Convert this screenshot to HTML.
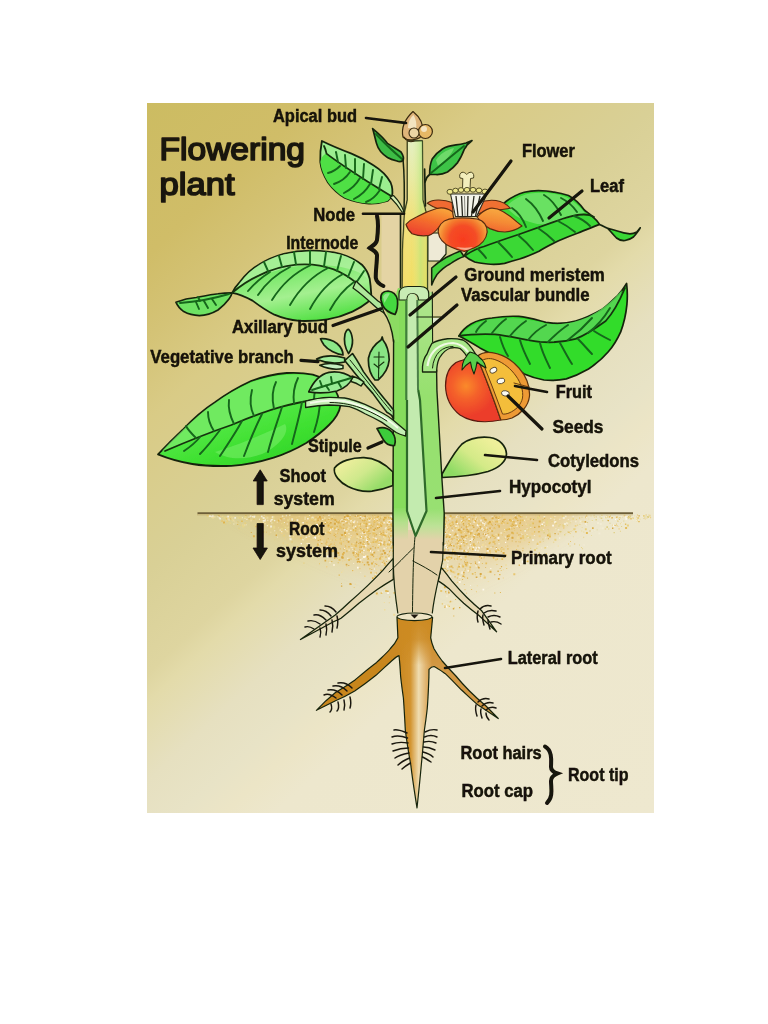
<!DOCTYPE html>
<html>
<head>
<meta charset="utf-8">
<title>Flowering plant</title>
<style>
html,body{margin:0;padding:0;background:#fff;}
body{width:768px;height:1024px;overflow:hidden;position:relative;font-family:"Liberation Sans",sans-serif;}
svg{position:absolute;left:0;top:0;display:block;}
.lbl{font-family:"Liberation Sans",sans-serif;font-weight:bold;font-size:17.6px;fill:#141208;stroke:#141208;stroke-width:0.45;}
.ttl{font-family:"Liberation Sans",sans-serif;font-weight:normal;font-size:32px;fill:#1a170c;stroke:#1a170c;stroke-width:1.7;stroke-linejoin:round;}
.ptr{stroke:#15120a;stroke-width:2.6;stroke-linecap:round;fill:none;}
.ptk{stroke:#15120a;stroke-width:3.2;stroke-linecap:round;fill:none;}
.ol{stroke:#16240c;stroke-width:1.3;stroke-linejoin:round;stroke-linecap:round;}
.vein{stroke:#14661a;stroke-width:1.9;fill:none;stroke-linecap:round;}
.veind{stroke:#16330f;stroke-width:1.8;fill:none;stroke-linecap:round;}
.hair{stroke:#1a1710;stroke-width:1.45;fill:none;stroke-linecap:round;}
</style>
</head>
<body>
<svg width="768" height="1024" viewBox="0 0 768 1024">
<defs>
<linearGradient id="bgv" gradientUnits="userSpaceOnUse" x1="147" y1="103" x2="733" y2="740">
<stop offset="0" stop-color="#ccbc62"/>
<stop offset="0.13" stop-color="#d0bd68"/>
<stop offset="0.2" stop-color="#d4c376"/>
<stop offset="0.27" stop-color="#d9cb86"/>
<stop offset="0.40" stop-color="#d9d096"/>
<stop offset="0.485" stop-color="#ded5a0"/>
<stop offset="0.51" stop-color="#e3dbaa"/>
<stop offset="0.577" stop-color="#e6e0c0"/>
<stop offset="0.63" stop-color="#e8e3c6"/>
<stop offset="0.664" stop-color="#ece5c6"/>
<stop offset="0.704" stop-color="#ede7cd"/>
<stop offset="1" stop-color="#eee8cf"/>
</linearGradient>
<linearGradient id="gUpH" gradientUnits="userSpaceOnUse" x1="403" y1="0" x2="428" y2="0">
<stop offset="0" stop-color="#f4dc78" stop-opacity="0.5"/><stop offset="0.35" stop-color="#eef0a0" stop-opacity="0.1"/><stop offset="0.7" stop-color="#b8e880" stop-opacity="0.6"/><stop offset="1" stop-color="#d8e070" stop-opacity="0.4"/>
</linearGradient>
<linearGradient id="gSoilV" gradientUnits="userSpaceOnUse" x1="0" y1="514" x2="0" y2="600">
<stop offset="0" stop-color="#e4b860" stop-opacity="0.62"/><stop offset="0.5" stop-color="#e8c47c" stop-opacity="0.4"/><stop offset="1" stop-color="#ecd49c" stop-opacity="0.1"/>
</linearGradient>
<filter id="fBlur" x="-20%" y="-40%" width="140%" height="200%"><feGaussianBlur stdDeviation="9"/></filter>
<clipPath id="cBelow"><rect x="147" y="514" width="507" height="200"/></clipPath>
<filter id="fSoft" filterUnits="userSpaceOnUse" x="140" y="96" width="522" height="724"><feGaussianBlur stdDeviation="0.55"/></filter>
<clipPath id="cFrame"><rect x="147" y="103" width="507" height="710"/></clipPath>
</defs>
<defs>
<linearGradient id="gUp" gradientUnits="userSpaceOnUse" x1="0" y1="140" x2="0" y2="290">
<stop offset="0" stop-color="#e2f0c8"/>
<stop offset="0.25" stop-color="#e8eaa4"/>
<stop offset="0.5" stop-color="#f0e07a"/>
<stop offset="1" stop-color="#f2dc5a"/>
</linearGradient>
<linearGradient id="gStemL" gradientUnits="userSpaceOnUse" x1="0" y1="508" x2="0" y2="540">
<stop offset="0" stop-color="#8adc62"/>
<stop offset="0.45" stop-color="#b4e08c"/>
<stop offset="1" stop-color="#e3d2aa"/>
</linearGradient>
<linearGradient id="gStemR" gradientUnits="userSpaceOnUse" x1="0" y1="300" x2="0" y2="540">
<stop offset="0" stop-color="#aee48c"/>
<stop offset="0.4" stop-color="#96e06e"/>
<stop offset="0.87" stop-color="#98e072"/>
<stop offset="0.94" stop-color="#bce296"/>
<stop offset="1" stop-color="#e3d2aa"/>
</linearGradient>
<linearGradient id="gBrown" gradientUnits="userSpaceOnUse" x1="397" y1="0" x2="432" y2="0">
<stop offset="0" stop-color="#c8861f"/>
<stop offset="0.38" stop-color="#d2932f"/>
<stop offset="0.62" stop-color="#efdcb0"/>
<stop offset="0.82" stop-color="#e0b470"/>
<stop offset="1" stop-color="#d29844"/>
</linearGradient>
<linearGradient id="gBrTop" gradientUnits="userSpaceOnUse" x1="0" y1="618" x2="0" y2="665">
<stop offset="0" stop-color="#cc8a22" stop-opacity="1"/>
<stop offset="0.45" stop-color="#cc8a22" stop-opacity="0.85"/>
<stop offset="1" stop-color="#cc8a22" stop-opacity="0"/>
</linearGradient>
<linearGradient id="gBrL" gradientUnits="userSpaceOnUse" x1="398" y1="645" x2="316" y2="712">
<stop offset="0" stop-color="#cc8c2e"/>
<stop offset="0.6" stop-color="#d9a352"/>
<stop offset="1" stop-color="#e2c08a"/>
</linearGradient>
<linearGradient id="gBrR" gradientUnits="userSpaceOnUse" x1="430" y1="655" x2="497" y2="718">
<stop offset="0" stop-color="#e0b070"/>
<stop offset="0.5" stop-color="#d9a352"/>
<stop offset="1" stop-color="#e2c08a"/>
</linearGradient>
</defs>
<defs>
<linearGradient id="gL3" gradientUnits="userSpaceOnUse" x1="300" y1="270" x2="310" y2="322">
<stop offset="0" stop-color="#7ae86a"/><stop offset="0.45" stop-color="#a4f090"/><stop offset="1" stop-color="#52e044"/>
</linearGradient>
<linearGradient id="gL7" gradientUnits="userSpaceOnUse" x1="250" y1="420" x2="265" y2="466">
<stop offset="0" stop-color="#4ee640"/><stop offset="0.5" stop-color="#3ee030"/><stop offset="1" stop-color="#34d62a"/>
</linearGradient>
<linearGradient id="gCoL" gradientUnits="userSpaceOnUse" x1="350" y1="458" x2="375" y2="490">
<stop offset="0" stop-color="#ecee9c"/><stop offset="0.5" stop-color="#cfe98c"/><stop offset="1" stop-color="#96dc68"/>
</linearGradient>
<linearGradient id="gCoR" gradientUnits="userSpaceOnUse" x1="490" y1="440" x2="460" y2="478">
<stop offset="0" stop-color="#eef09a"/><stop offset="0.5" stop-color="#d4ea88"/><stop offset="1" stop-color="#8edb64"/>
</linearGradient>
</defs>
<defs>
<radialGradient id="gP3" gradientUnits="userSpaceOnUse" cx="463" cy="238" r="24" fx="463" fy="240">
<stop offset="0" stop-color="#f83c1e"/><stop offset="0.55" stop-color="#f44c26"/><stop offset="0.82" stop-color="#f47c2e"/><stop offset="1" stop-color="#f6a040"/>
</radialGradient>
<linearGradient id="gP1" gradientUnits="userSpaceOnUse" x1="432" y1="207" x2="424" y2="236">
<stop offset="0" stop-color="#f8a03a"/><stop offset="0.45" stop-color="#f4702c"/><stop offset="1" stop-color="#ec4230"/>
</linearGradient>
<linearGradient id="gP4" gradientUnits="userSpaceOnUse" x1="500" y1="208" x2="496" y2="233">
<stop offset="0" stop-color="#f8ac42"/><stop offset="0.55" stop-color="#f48a34"/><stop offset="1" stop-color="#f06232"/>
</linearGradient>
<radialGradient id="gFr" gradientUnits="userSpaceOnUse" cx="466" cy="386" r="30">
<stop offset="0" stop-color="#fa8a2c"/><stop offset="0.45" stop-color="#f4602c"/><stop offset="1" stop-color="#ec3e2c"/>
</radialGradient>
<radialGradient id="gSoil" gradientUnits="userSpaceOnUse" cx="418" cy="520" r="230" gradientTransform="translate(418 520) scale(1 0.36) translate(-418 -520)">
<stop offset="0" stop-color="#e8c070" stop-opacity="0.55"/><stop offset="0.5" stop-color="#ecd094" stop-opacity="0.35"/><stop offset="1" stop-color="#ecd8a8" stop-opacity="0"/>
</radialGradient>
<clipPath id="cSoil"><rect x="147" y="514" width="507" height="120"/></clipPath>
</defs>
<g id="bg">
<rect x="147" y="103" width="507" height="710" fill="url(#bgv)"/>
</g>
<g id="art" filter="url(#fSoft)" clip-path="url(#cFrame)">
<g id="soil">
<g clip-path="url(#cBelow)">
<path d="M236 508 L394 508 L394 582 C360 568 300 545 236 508 Z" fill="url(#gSoilV)" filter="url(#fBlur)"/>
<path d="M444 508 L590 508 C550 535 490 572 444 590 Z" fill="url(#gSoilV)" filter="url(#fBlur)"/>
<path fill="#e6c060" d="M454.1 551.0h1.4v1.4h-1.4zM336.9 557.8h0.9v0.9h-0.9zM369.1 539.0h1.0v1.0h-1.0zM447.4 535.0h1.2v1.2h-1.2zM444.5 567.7h1.4v1.4h-1.4zM442.2 563.1h1.2v1.2h-1.2zM516.1 549.1h1.0v1.0h-1.0zM456.0 554.4h0.9v0.9h-0.9zM460.5 539.3h1.4v1.4h-1.4zM457.5 566.7h1.0v1.0h-1.0zM470.9 514.8h0.9v0.9h-0.9zM448.0 590.5h1.0v1.0h-1.0zM444.1 558.8h2.0v2.0h-2.0zM453.4 525.9h1.0v1.0h-1.0zM353.4 548.2h1.7v1.7h-1.7zM326.9 519.7h1.2v1.2h-1.2zM317.3 524.6h1.0v1.0h-1.0zM559.6 524.3h0.9v0.9h-0.9zM377.5 546.9h1.4v1.4h-1.4zM342.3 553.0h1.0v1.0h-1.0zM489.2 541.7h1.7v1.7h-1.7zM381.7 532.2h2.0v2.0h-2.0zM460.2 545.1h1.0v1.0h-1.0zM376.1 518.7h2.0v2.0h-2.0zM468.7 517.8h1.0v1.0h-1.0zM381.8 561.7h1.4v1.4h-1.4zM389.8 550.0h0.9v0.9h-0.9zM468.7 517.2h1.2v1.2h-1.2zM494.1 527.7h1.2v1.2h-1.2zM354.8 555.6h1.7v1.7h-1.7zM253.3 518.8h1.2v1.2h-1.2zM469.7 551.7h1.0v1.0h-1.0zM353.7 587.2h0.9v0.9h-0.9zM443.8 535.1h1.0v1.0h-1.0zM468.1 518.9h0.9v0.9h-0.9zM453.7 586.0h1.0v1.0h-1.0zM476.6 536.9h0.9v0.9h-0.9zM315.5 516.4h1.4v1.4h-1.4zM456.3 539.0h1.7v1.7h-1.7zM334.9 545.6h0.9v0.9h-0.9zM507.3 545.5h0.9v0.9h-0.9zM366.4 520.8h1.2v1.2h-1.2zM339.7 548.2h1.2v1.2h-1.2zM455.9 524.5h1.4v1.4h-1.4zM387.0 543.4h2.0v2.0h-2.0zM501.4 516.4h1.2v1.2h-1.2zM366.3 531.3h2.0v2.0h-2.0zM448.9 523.8h1.2v1.2h-1.2zM359.4 568.3h1.0v1.0h-1.0zM340.1 523.3h0.9v0.9h-0.9zM498.6 515.9h1.0v1.0h-1.0zM440.5 514.6h1.7v1.7h-1.7zM368.8 529.4h1.4v1.4h-1.4zM542.5 525.8h1.0v1.0h-1.0zM458.6 527.7h1.7v1.7h-1.7zM521.8 519.6h1.7v1.7h-1.7zM368.3 518.7h0.9v0.9h-0.9zM487.0 530.9h1.0v1.0h-1.0zM541.1 563.8h1.0v1.0h-1.0zM457.4 557.2h1.0v1.0h-1.0zM376.5 545.2h1.0v1.0h-1.0zM359.0 526.5h1.0v1.0h-1.0zM349.4 518.3h1.4v1.4h-1.4zM339.4 526.3h2.0v2.0h-2.0zM480.6 519.6h0.9v0.9h-0.9zM449.0 529.2h1.2v1.2h-1.2zM536.7 543.2h1.7v1.7h-1.7zM374.6 533.3h1.2v1.2h-1.2zM395.8 533.1h1.0v1.0h-1.0zM380.1 515.9h1.0v1.0h-1.0zM464.5 562.5h0.9v0.9h-0.9zM494.9 554.4h1.2v1.2h-1.2zM448.4 536.4h1.7v1.7h-1.7zM340.4 539.5h1.2v1.2h-1.2zM207.6 515.1h1.4v1.4h-1.4zM520.2 529.7h1.2v1.2h-1.2zM466.8 514.7h1.0v1.0h-1.0zM393.9 555.1h0.9v0.9h-0.9zM372.3 526.2h1.0v1.0h-1.0zM474.0 535.0h0.9v0.9h-0.9zM335.3 539.3h1.2v1.2h-1.2zM467.4 535.5h2.0v2.0h-2.0zM460.2 515.5h1.2v1.2h-1.2zM526.9 560.5h1.7v1.7h-1.7zM497.8 533.4h1.0v1.0h-1.0zM447.1 534.8h1.2v1.2h-1.2zM460.4 532.0h1.4v1.4h-1.4zM251.8 516.5h1.0v1.0h-1.0zM459.1 528.2h1.2v1.2h-1.2zM324.9 550.0h2.0v2.0h-2.0zM446.8 542.8h1.0v1.0h-1.0zM382.2 530.1h1.4v1.4h-1.4zM477.0 531.0h1.0v1.0h-1.0zM485.2 524.7h1.4v1.4h-1.4zM320.2 522.3h0.9v0.9h-0.9zM375.7 528.7h1.2v1.2h-1.2zM473.2 514.6h1.7v1.7h-1.7zM357.5 528.9h0.9v0.9h-0.9zM368.0 517.7h2.0v2.0h-2.0zM393.5 592.1h1.7v1.7h-1.7zM366.7 564.3h0.9v0.9h-0.9zM361.7 553.5h0.9v0.9h-0.9zM389.7 518.0h1.0v1.0h-1.0zM381.8 522.8h1.4v1.4h-1.4zM225.7 517.7h2.0v2.0h-2.0zM442.2 527.6h1.7v1.7h-1.7zM563.3 527.5h0.9v0.9h-0.9zM332.3 546.1h1.4v1.4h-1.4zM372.1 515.3h1.0v1.0h-1.0zM337.1 521.9h1.2v1.2h-1.2zM336.5 532.8h1.2v1.2h-1.2zM487.6 529.9h1.0v1.0h-1.0zM457.1 554.8h2.0v2.0h-2.0zM441.8 520.6h1.2v1.2h-1.2zM380.6 592.3h1.7v1.7h-1.7zM454.7 533.5h1.0v1.0h-1.0zM481.4 516.7h0.9v0.9h-0.9zM440.4 517.7h1.2v1.2h-1.2zM451.9 550.5h1.4v1.4h-1.4zM377.5 514.7h1.0v1.0h-1.0zM460.7 552.4h1.0v1.0h-1.0zM568.1 543.4h1.0v1.0h-1.0zM449.5 601.2h1.4v1.4h-1.4zM339.2 525.3h1.4v1.4h-1.4zM362.9 540.8h1.4v1.4h-1.4zM500.8 550.6h1.4v1.4h-1.4zM331.8 539.6h0.9v0.9h-0.9zM358.2 523.7h2.0v2.0h-2.0zM452.5 571.2h1.7v1.7h-1.7zM383.5 523.5h0.9v0.9h-0.9zM255.2 525.8h1.4v1.4h-1.4zM518.5 551.8h1.0v1.0h-1.0zM586.2 514.7h1.0v1.0h-1.0zM467.5 551.1h1.0v1.0h-1.0zM370.3 553.6h2.0v2.0h-2.0zM375.0 541.0h1.7v1.7h-1.7zM457.8 522.9h1.0v1.0h-1.0zM379.8 553.7h1.0v1.0h-1.0zM449.9 556.9h2.0v2.0h-2.0zM376.6 523.6h2.0v2.0h-2.0zM395.0 549.6h1.0v1.0h-1.0zM362.2 562.0h0.9v0.9h-0.9zM449.5 558.2h1.2v1.2h-1.2zM320.8 527.3h1.0v1.0h-1.0zM392.6 517.4h1.7v1.7h-1.7zM389.5 526.0h0.9v0.9h-0.9zM440.1 518.6h2.0v2.0h-2.0zM466.5 525.0h2.0v2.0h-2.0zM367.3 548.9h2.0v2.0h-2.0zM333.7 544.0h0.9v0.9h-0.9zM378.4 565.3h0.9v0.9h-0.9zM606.1 515.8h1.7v1.7h-1.7zM501.4 558.3h1.7v1.7h-1.7zM358.1 551.3h1.4v1.4h-1.4zM485.9 552.5h1.7v1.7h-1.7zM315.8 520.5h2.0v2.0h-2.0zM461.5 516.1h1.7v1.7h-1.7zM382.8 562.7h0.9v0.9h-0.9zM327.5 531.6h1.7v1.7h-1.7zM500.9 522.2h1.7v1.7h-1.7zM628.1 516.1h1.7v1.7h-1.7zM467.9 570.5h1.7v1.7h-1.7zM441.9 556.7h0.9v0.9h-0.9zM461.1 548.2h1.2v1.2h-1.2zM349.0 515.4h2.0v2.0h-2.0zM464.3 515.7h1.7v1.7h-1.7zM466.5 533.2h0.9v0.9h-0.9zM380.7 524.7h1.0v1.0h-1.0zM344.7 545.1h1.0v1.0h-1.0zM372.6 532.6h2.0v2.0h-2.0zM379.7 532.9h2.0v2.0h-2.0zM351.0 584.2h0.9v0.9h-0.9zM480.3 537.3h1.4v1.4h-1.4zM491.8 521.1h0.9v0.9h-0.9zM363.8 517.9h1.7v1.7h-1.7zM624.9 523.6h1.4v1.4h-1.4zM448.7 559.3h0.9v0.9h-0.9zM376.2 541.7h1.0v1.0h-1.0zM441.7 555.6h1.7v1.7h-1.7zM377.0 528.3h1.0v1.0h-1.0zM362.6 538.1h1.0v1.0h-1.0zM374.2 575.6h2.0v2.0h-2.0zM392.8 552.8h1.2v1.2h-1.2zM312.0 527.8h1.4v1.4h-1.4zM371.3 517.9h1.7v1.7h-1.7zM339.1 542.5h1.0v1.0h-1.0zM457.8 526.2h1.4v1.4h-1.4zM456.4 519.6h0.9v0.9h-0.9zM486.1 518.8h0.9v0.9h-0.9zM485.4 562.6h1.7v1.7h-1.7zM395.2 539.1h1.0v1.0h-1.0zM346.3 551.0h1.2v1.2h-1.2zM365.8 536.1h1.4v1.4h-1.4zM468.3 519.8h2.0v2.0h-2.0zM464.6 555.8h2.0v2.0h-2.0zM441.7 527.7h1.0v1.0h-1.0zM393.7 516.1h1.2v1.2h-1.2zM615.9 516.5h1.4v1.4h-1.4zM329.9 550.4h1.7v1.7h-1.7zM497.3 549.4h1.0v1.0h-1.0zM464.2 569.8h1.2v1.2h-1.2zM393.7 517.1h1.7v1.7h-1.7zM451.0 534.6h1.0v1.0h-1.0zM442.2 536.2h1.0v1.0h-1.0zM471.8 573.1h1.7v1.7h-1.7zM495.5 514.7h1.0v1.0h-1.0zM389.4 543.3h1.7v1.7h-1.7zM447.6 527.5h1.7v1.7h-1.7zM378.9 539.6h1.4v1.4h-1.4zM374.1 515.0h1.4v1.4h-1.4zM337.7 530.9h0.9v0.9h-0.9zM528.6 541.8h1.2v1.2h-1.2zM482.6 530.4h1.4v1.4h-1.4zM376.5 539.8h1.7v1.7h-1.7zM464.0 576.3h1.2v1.2h-1.2zM440.3 551.1h1.0v1.0h-1.0zM522.3 535.3h1.4v1.4h-1.4zM618.9 518.9h1.0v1.0h-1.0zM463.2 529.2h2.0v2.0h-2.0zM362.9 536.4h1.0v1.0h-1.0zM390.3 520.4h1.2v1.2h-1.2zM364.2 534.1h1.4v1.4h-1.4zM373.8 565.4h1.2v1.2h-1.2zM363.2 522.5h1.7v1.7h-1.7zM470.1 521.5h1.0v1.0h-1.0z"/>
<path fill="#fdf8ec" d="M485.3 518.2h0.9v0.9h-0.9zM478.9 523.8h0.9v0.9h-0.9zM316.0 524.5h1.7v1.7h-1.7zM392.5 537.2h0.9v0.9h-0.9zM378.6 522.3h1.0v1.0h-1.0zM311.5 516.8h2.0v2.0h-2.0zM472.5 546.8h1.7v1.7h-1.7zM449.9 540.6h1.0v1.0h-1.0zM381.5 563.6h1.0v1.0h-1.0zM349.5 514.6h1.2v1.2h-1.2zM475.6 565.2h1.2v1.2h-1.2zM461.4 571.4h1.4v1.4h-1.4zM443.8 536.6h1.0v1.0h-1.0zM364.5 544.7h2.0v2.0h-2.0zM345.7 515.3h2.0v2.0h-2.0zM445.4 524.5h2.0v2.0h-2.0zM321.5 541.6h1.0v1.0h-1.0zM487.1 549.7h1.7v1.7h-1.7zM227.5 518.4h1.0v1.0h-1.0zM374.2 519.0h0.9v0.9h-0.9zM505.0 541.7h1.2v1.2h-1.2zM448.1 528.0h1.4v1.4h-1.4zM442.4 571.9h1.4v1.4h-1.4zM387.2 592.2h1.7v1.7h-1.7zM477.5 541.3h1.2v1.2h-1.2zM467.1 527.9h1.2v1.2h-1.2zM442.2 524.8h1.4v1.4h-1.4zM469.8 544.0h1.0v1.0h-1.0zM341.0 519.4h1.0v1.0h-1.0zM447.3 563.8h1.0v1.0h-1.0zM559.2 537.5h1.0v1.0h-1.0zM452.1 521.8h1.2v1.2h-1.2zM383.4 522.2h1.7v1.7h-1.7zM491.6 516.5h1.2v1.2h-1.2zM458.6 581.1h2.0v2.0h-2.0zM488.7 550.2h1.7v1.7h-1.7zM366.4 538.3h1.4v1.4h-1.4zM324.8 522.1h0.9v0.9h-0.9zM344.5 520.3h2.0v2.0h-2.0zM442.7 556.6h1.0v1.0h-1.0zM449.7 575.4h1.4v1.4h-1.4zM388.0 557.6h2.0v2.0h-2.0zM445.8 605.4h2.0v2.0h-2.0zM585.3 523.2h1.2v1.2h-1.2zM365.8 539.4h2.0v2.0h-2.0zM364.4 555.6h2.0v2.0h-2.0zM498.3 548.1h0.9v0.9h-0.9zM613.0 524.6h2.0v2.0h-2.0zM366.9 517.0h0.9v0.9h-0.9zM393.6 527.2h1.4v1.4h-1.4zM460.7 543.1h1.2v1.2h-1.2zM462.6 553.3h1.7v1.7h-1.7zM467.2 546.7h1.7v1.7h-1.7zM452.3 529.9h1.4v1.4h-1.4zM614.9 518.7h1.2v1.2h-1.2zM338.9 519.9h1.7v1.7h-1.7zM354.2 520.4h1.2v1.2h-1.2zM352.5 570.0h1.2v1.2h-1.2zM388.3 520.3h1.7v1.7h-1.7zM313.5 537.5h0.9v0.9h-0.9zM521.7 560.7h2.0v2.0h-2.0zM552.2 524.8h1.7v1.7h-1.7zM467.3 525.3h0.9v0.9h-0.9zM455.8 515.7h1.7v1.7h-1.7zM302.5 538.8h1.4v1.4h-1.4zM497.4 537.1h2.0v2.0h-2.0zM474.7 549.2h1.7v1.7h-1.7zM440.7 560.2h2.0v2.0h-2.0zM361.1 536.1h0.9v0.9h-0.9zM478.8 534.5h1.0v1.0h-1.0zM393.8 561.0h1.0v1.0h-1.0zM471.4 530.3h1.2v1.2h-1.2zM465.4 542.5h1.4v1.4h-1.4zM315.0 538.0h0.9v0.9h-0.9zM314.4 536.4h1.7v1.7h-1.7zM379.4 541.1h1.2v1.2h-1.2zM463.4 529.6h0.9v0.9h-0.9zM441.2 520.7h1.4v1.4h-1.4zM357.0 566.7h1.7v1.7h-1.7zM307.2 518.1h1.4v1.4h-1.4zM270.2 520.6h1.2v1.2h-1.2zM516.4 525.4h1.4v1.4h-1.4zM459.3 565.3h1.4v1.4h-1.4zM456.8 522.9h1.4v1.4h-1.4zM476.8 524.3h1.7v1.7h-1.7zM337.8 529.4h1.0v1.0h-1.0zM498.5 543.3h1.0v1.0h-1.0zM482.5 588.7h1.7v1.7h-1.7zM443.3 525.8h1.7v1.7h-1.7zM469.8 523.3h1.0v1.0h-1.0zM449.2 542.8h1.0v1.0h-1.0zM350.3 529.7h1.2v1.2h-1.2zM463.2 532.0h1.7v1.7h-1.7zM449.3 533.7h2.0v2.0h-2.0zM485.3 545.5h1.0v1.0h-1.0zM327.0 555.4h2.0v2.0h-2.0zM328.3 514.7h1.2v1.2h-1.2zM490.2 567.9h1.2v1.2h-1.2zM445.3 570.2h1.4v1.4h-1.4zM469.5 540.1h2.0v2.0h-2.0zM391.0 541.0h1.0v1.0h-1.0zM485.5 534.2h2.0v2.0h-2.0zM355.1 525.8h1.2v1.2h-1.2zM486.0 527.6h1.4v1.4h-1.4zM390.8 571.8h1.7v1.7h-1.7zM458.2 544.0h0.9v0.9h-0.9zM300.6 542.9h1.4v1.4h-1.4zM390.7 515.7h1.7v1.7h-1.7zM649.1 516.4h1.0v1.0h-1.0zM327.7 546.9h1.7v1.7h-1.7zM461.7 550.4h1.2v1.2h-1.2zM460.1 521.8h1.4v1.4h-1.4zM302.4 522.1h1.4v1.4h-1.4zM484.2 524.7h1.0v1.0h-1.0zM477.8 546.8h2.0v2.0h-2.0zM381.2 541.8h1.7v1.7h-1.7zM541.4 523.5h1.7v1.7h-1.7zM469.4 564.2h1.0v1.0h-1.0zM390.1 519.7h2.0v2.0h-2.0zM362.6 532.9h1.0v1.0h-1.0zM444.8 543.9h2.0v2.0h-2.0zM318.4 519.5h1.2v1.2h-1.2zM362.4 544.2h1.4v1.4h-1.4zM481.9 522.2h1.4v1.4h-1.4zM466.3 550.9h1.7v1.7h-1.7zM375.1 573.6h0.9v0.9h-0.9zM445.5 515.1h1.0v1.0h-1.0zM326.4 545.9h2.0v2.0h-2.0zM470.4 545.6h0.9v0.9h-0.9zM348.7 522.5h1.7v1.7h-1.7zM478.3 561.5h1.7v1.7h-1.7zM496.1 548.1h0.9v0.9h-0.9zM500.3 532.5h1.7v1.7h-1.7zM463.1 520.9h1.0v1.0h-1.0zM446.2 565.4h2.0v2.0h-2.0zM372.4 551.1h2.0v2.0h-2.0zM385.1 528.0h1.2v1.2h-1.2zM361.1 517.6h1.4v1.4h-1.4zM467.4 554.9h0.9v0.9h-0.9zM272.3 517.1h1.2v1.2h-1.2zM442.0 532.4h1.0v1.0h-1.0zM383.8 541.3h1.0v1.0h-1.0zM624.9 516.1h1.7v1.7h-1.7zM515.4 552.5h1.0v1.0h-1.0zM360.5 538.1h0.9v0.9h-0.9zM318.4 516.1h1.0v1.0h-1.0zM443.4 571.5h2.0v2.0h-2.0zM387.7 530.3h0.9v0.9h-0.9zM377.0 525.5h2.0v2.0h-2.0zM451.2 544.0h1.0v1.0h-1.0zM350.2 519.5h2.0v2.0h-2.0zM484.9 521.6h0.9v0.9h-0.9zM511.4 519.9h1.2v1.2h-1.2zM475.2 518.5h2.0v2.0h-2.0zM554.3 521.2h2.0v2.0h-2.0zM323.9 554.2h1.4v1.4h-1.4zM353.3 528.4h1.0v1.0h-1.0zM356.2 515.0h0.9v0.9h-0.9zM253.7 516.7h1.4v1.4h-1.4zM352.9 521.5h1.7v1.7h-1.7zM456.6 521.7h1.0v1.0h-1.0zM362.9 556.0h2.0v2.0h-2.0zM343.7 529.2h1.4v1.4h-1.4zM316.2 524.0h2.0v2.0h-2.0zM289.1 514.6h1.4v1.4h-1.4zM376.0 538.3h1.0v1.0h-1.0zM376.1 517.5h1.2v1.2h-1.2zM355.3 551.1h0.9v0.9h-0.9zM358.5 537.3h0.9v0.9h-0.9zM488.2 536.3h1.4v1.4h-1.4zM499.8 549.0h1.0v1.0h-1.0zM445.6 546.7h1.7v1.7h-1.7zM374.0 568.6h1.0v1.0h-1.0zM467.5 570.0h1.7v1.7h-1.7zM484.3 533.0h2.0v2.0h-2.0zM363.3 549.7h1.4v1.4h-1.4zM478.2 541.3h1.4v1.4h-1.4zM372.8 536.8h1.0v1.0h-1.0zM450.0 584.1h2.0v2.0h-2.0zM369.0 550.1h2.0v2.0h-2.0zM392.5 542.8h1.7v1.7h-1.7zM514.9 515.9h1.0v1.0h-1.0zM394.4 550.2h1.4v1.4h-1.4zM450.6 518.6h1.2v1.2h-1.2zM483.4 529.1h1.2v1.2h-1.2zM625.4 518.0h1.7v1.7h-1.7zM470.1 584.9h0.9v0.9h-0.9zM368.9 541.6h0.9v0.9h-0.9zM389.1 541.7h0.9v0.9h-0.9zM328.4 525.9h1.0v1.0h-1.0zM362.7 516.2h1.0v1.0h-1.0zM443.0 525.1h1.0v1.0h-1.0zM479.0 523.9h1.2v1.2h-1.2zM522.9 563.2h1.0v1.0h-1.0z"/>
<path fill="#dcae4c" d="M468.0 522.9h0.9v0.9h-0.9zM478.4 528.1h0.9v0.9h-0.9zM383.3 516.7h1.4v1.4h-1.4zM517.1 519.7h1.4v1.4h-1.4zM538.0 530.9h1.7v1.7h-1.7zM384.0 562.6h1.4v1.4h-1.4zM341.3 527.4h1.0v1.0h-1.0zM483.9 529.6h1.2v1.2h-1.2zM387.9 535.7h1.0v1.0h-1.0zM363.6 515.5h2.0v2.0h-2.0zM482.2 518.0h0.9v0.9h-0.9zM394.0 530.2h1.4v1.4h-1.4zM463.0 571.8h1.7v1.7h-1.7zM317.5 517.9h1.2v1.2h-1.2zM497.4 570.5h1.4v1.4h-1.4zM512.4 537.4h1.0v1.0h-1.0zM367.1 518.7h1.2v1.2h-1.2zM502.6 551.9h2.0v2.0h-2.0zM483.7 536.3h0.9v0.9h-0.9zM469.1 517.4h1.2v1.2h-1.2zM495.6 516.6h2.0v2.0h-2.0zM364.6 520.1h1.0v1.0h-1.0zM491.8 524.8h1.0v1.0h-1.0zM485.2 567.2h0.9v0.9h-0.9zM480.2 525.4h1.0v1.0h-1.0zM356.8 560.8h2.0v2.0h-2.0zM244.7 516.4h1.0v1.0h-1.0zM494.1 515.4h1.2v1.2h-1.2zM313.8 550.9h1.2v1.2h-1.2zM386.5 524.4h1.2v1.2h-1.2zM472.8 539.0h1.2v1.2h-1.2zM334.2 518.7h1.0v1.0h-1.0zM360.0 523.3h1.4v1.4h-1.4zM337.3 551.9h2.0v2.0h-2.0zM498.6 527.1h1.0v1.0h-1.0zM457.3 581.7h1.0v1.0h-1.0zM511.2 531.8h2.0v2.0h-2.0zM479.6 526.1h1.0v1.0h-1.0zM340.6 543.2h1.4v1.4h-1.4zM461.7 520.9h1.7v1.7h-1.7zM380.8 540.2h1.0v1.0h-1.0zM374.8 563.2h1.0v1.0h-1.0zM592.0 527.3h1.7v1.7h-1.7zM337.7 521.5h2.0v2.0h-2.0zM324.8 542.7h0.9v0.9h-0.9zM336.2 521.7h0.9v0.9h-0.9zM322.9 531.2h1.4v1.4h-1.4zM326.1 531.9h1.0v1.0h-1.0zM490.5 527.2h0.9v0.9h-0.9zM359.9 528.0h1.2v1.2h-1.2zM441.8 556.1h0.9v0.9h-0.9zM485.7 529.1h1.2v1.2h-1.2zM383.3 543.5h1.7v1.7h-1.7zM349.0 518.4h0.9v0.9h-0.9zM451.4 538.0h1.2v1.2h-1.2zM363.3 546.2h1.4v1.4h-1.4zM342.9 527.7h1.0v1.0h-1.0zM329.9 543.8h1.0v1.0h-1.0zM589.5 530.4h1.0v1.0h-1.0zM518.6 564.4h1.4v1.4h-1.4zM366.2 527.7h1.7v1.7h-1.7zM394.2 531.2h1.0v1.0h-1.0zM495.9 555.1h0.9v0.9h-0.9zM393.5 528.6h1.0v1.0h-1.0zM519.5 534.2h1.0v1.0h-1.0zM459.2 548.1h1.4v1.4h-1.4zM371.4 569.1h0.9v0.9h-0.9zM390.8 569.0h0.9v0.9h-0.9zM359.6 517.3h1.7v1.7h-1.7zM519.9 521.7h1.2v1.2h-1.2zM504.8 554.2h1.7v1.7h-1.7zM317.3 519.3h1.7v1.7h-1.7zM355.5 543.4h1.4v1.4h-1.4zM463.0 541.8h1.4v1.4h-1.4zM447.9 545.4h1.2v1.2h-1.2zM447.5 585.6h1.7v1.7h-1.7zM468.1 516.6h1.0v1.0h-1.0zM445.1 519.4h0.9v0.9h-0.9zM444.7 548.5h1.0v1.0h-1.0zM503.6 521.9h1.0v1.0h-1.0zM337.8 529.0h1.4v1.4h-1.4zM362.9 542.8h1.0v1.0h-1.0zM332.1 549.6h2.0v2.0h-2.0zM348.7 526.2h1.2v1.2h-1.2zM326.2 541.6h1.2v1.2h-1.2zM494.9 524.1h1.0v1.0h-1.0zM373.8 558.9h1.0v1.0h-1.0zM500.9 566.0h1.2v1.2h-1.2zM479.1 536.2h1.0v1.0h-1.0zM466.3 528.6h1.7v1.7h-1.7zM473.1 526.6h1.4v1.4h-1.4zM329.2 532.0h1.7v1.7h-1.7zM381.4 553.4h1.0v1.0h-1.0zM383.2 531.8h1.0v1.0h-1.0zM538.7 520.5h2.0v2.0h-2.0zM387.9 528.8h1.7v1.7h-1.7zM328.3 549.1h1.2v1.2h-1.2zM508.4 534.3h0.9v0.9h-0.9zM476.8 533.8h2.0v2.0h-2.0zM442.7 573.8h1.4v1.4h-1.4zM323.2 546.6h1.2v1.2h-1.2zM381.6 585.6h1.4v1.4h-1.4zM317.7 543.0h1.0v1.0h-1.0zM380.2 524.7h1.0v1.0h-1.0zM519.7 516.0h1.4v1.4h-1.4zM259.9 534.2h1.7v1.7h-1.7zM230.2 518.3h1.2v1.2h-1.2zM519.6 541.6h1.0v1.0h-1.0zM373.2 551.6h2.0v2.0h-2.0zM386.9 553.1h1.4v1.4h-1.4zM373.4 523.4h1.0v1.0h-1.0zM327.9 518.9h1.7v1.7h-1.7zM479.2 559.7h0.9v0.9h-0.9zM476.5 564.3h1.0v1.0h-1.0zM440.2 528.3h1.4v1.4h-1.4zM313.6 533.9h1.7v1.7h-1.7zM515.5 541.3h1.0v1.0h-1.0zM370.1 527.2h1.4v1.4h-1.4zM540.7 525.3h1.0v1.0h-1.0zM386.0 560.9h1.0v1.0h-1.0zM487.5 532.8h1.2v1.2h-1.2zM449.5 532.4h1.7v1.7h-1.7zM376.9 527.1h1.7v1.7h-1.7zM343.5 518.6h1.4v1.4h-1.4zM497.9 517.3h1.7v1.7h-1.7zM365.5 591.9h1.7v1.7h-1.7zM392.8 561.0h1.7v1.7h-1.7zM346.6 521.9h0.9v0.9h-0.9zM372.5 545.9h1.0v1.0h-1.0zM483.1 522.4h1.4v1.4h-1.4zM492.5 546.3h0.9v0.9h-0.9zM478.4 523.4h1.0v1.0h-1.0zM493.3 535.9h1.2v1.2h-1.2zM348.3 564.9h1.0v1.0h-1.0zM559.7 531.0h1.2v1.2h-1.2zM452.4 548.8h1.2v1.2h-1.2zM341.4 520.5h1.4v1.4h-1.4zM538.7 515.4h1.0v1.0h-1.0zM333.8 549.7h1.4v1.4h-1.4zM341.7 556.7h2.0v2.0h-2.0zM442.0 536.9h2.0v2.0h-2.0zM443.2 523.1h1.2v1.2h-1.2zM358.6 560.8h2.0v2.0h-2.0zM497.5 524.8h0.9v0.9h-0.9zM343.6 548.3h1.4v1.4h-1.4zM350.5 558.4h1.0v1.0h-1.0zM447.3 569.9h1.0v1.0h-1.0zM450.2 600.8h1.0v1.0h-1.0zM501.4 547.0h1.0v1.0h-1.0zM386.7 523.6h1.0v1.0h-1.0zM442.5 567.9h1.4v1.4h-1.4zM480.2 526.7h2.0v2.0h-2.0zM493.7 527.6h1.2v1.2h-1.2zM451.5 524.8h1.0v1.0h-1.0zM477.7 566.4h1.4v1.4h-1.4zM464.7 542.7h1.0v1.0h-1.0zM380.5 521.7h1.7v1.7h-1.7zM440.0 570.3h2.0v2.0h-2.0zM443.8 543.4h0.9v0.9h-0.9zM372.4 554.6h0.9v0.9h-0.9zM440.1 524.9h1.4v1.4h-1.4zM467.9 519.5h1.2v1.2h-1.2zM518.2 534.5h0.9v0.9h-0.9zM379.9 556.7h1.0v1.0h-1.0zM463.1 528.5h1.4v1.4h-1.4zM336.0 520.8h1.2v1.2h-1.2zM304.0 525.3h1.4v1.4h-1.4zM317.6 539.7h1.4v1.4h-1.4zM542.5 519.2h0.9v0.9h-0.9zM495.1 517.1h1.2v1.2h-1.2zM481.4 553.2h1.0v1.0h-1.0zM448.4 528.0h1.0v1.0h-1.0zM377.6 516.1h1.2v1.2h-1.2zM440.1 562.9h1.0v1.0h-1.0zM329.7 547.9h1.4v1.4h-1.4zM341.1 533.9h2.0v2.0h-2.0zM452.4 521.3h1.0v1.0h-1.0zM478.2 541.4h1.2v1.2h-1.2zM491.6 517.3h2.0v2.0h-2.0zM360.7 546.2h1.7v1.7h-1.7zM538.2 525.8h1.7v1.7h-1.7zM334.8 533.7h1.0v1.0h-1.0zM486.9 528.5h1.2v1.2h-1.2zM343.0 552.1h1.7v1.7h-1.7zM497.5 524.5h1.0v1.0h-1.0zM489.5 570.7h2.0v2.0h-2.0zM456.8 577.5h1.0v1.0h-1.0zM362.1 561.8h1.0v1.0h-1.0zM476.9 547.8h1.4v1.4h-1.4zM331.3 561.1h1.0v1.0h-1.0zM512.9 521.1h1.7v1.7h-1.7zM365.6 535.8h1.0v1.0h-1.0zM464.0 561.2h1.0v1.0h-1.0zM455.5 521.1h2.0v2.0h-2.0zM392.4 546.9h1.7v1.7h-1.7zM465.6 526.3h1.4v1.4h-1.4zM327.7 538.2h1.0v1.0h-1.0zM390.5 533.5h1.0v1.0h-1.0zM390.2 529.7h2.0v2.0h-2.0zM380.3 515.7h1.4v1.4h-1.4zM522.4 550.3h0.9v0.9h-0.9zM512.8 524.4h1.7v1.7h-1.7zM366.5 515.5h1.2v1.2h-1.2zM334.3 518.9h2.0v2.0h-2.0zM458.7 563.4h1.0v1.0h-1.0zM449.1 557.4h0.9v0.9h-0.9zM498.1 539.9h1.2v1.2h-1.2z"/>
<path fill="#e8d080" d="M250.0 518.9h2.0v2.0h-2.0zM239.6 524.7h1.2v1.2h-1.2zM570.5 531.1h1.0v1.0h-1.0zM599.5 516.5h1.0v1.0h-1.0zM289.9 556.7h2.0v2.0h-2.0zM257.4 530.4h2.0v2.0h-2.0zM230.0 516.4h1.0v1.0h-1.0zM303.3 562.6h1.2v1.2h-1.2zM256.3 524.0h1.7v1.7h-1.7zM283.3 534.8h1.7v1.7h-1.7zM569.7 533.1h1.0v1.0h-1.0zM238.6 517.1h1.7v1.7h-1.7zM584.8 528.2h2.0v2.0h-2.0zM265.1 515.2h1.7v1.7h-1.7zM537.4 515.6h1.7v1.7h-1.7zM246.1 518.9h1.7v1.7h-1.7zM310.7 549.7h1.7v1.7h-1.7zM298.0 519.7h0.9v0.9h-0.9zM244.6 517.1h1.7v1.7h-1.7zM545.9 524.7h1.2v1.2h-1.2zM561.7 515.2h1.7v1.7h-1.7zM548.1 530.4h1.2v1.2h-1.2zM289.6 514.8h1.0v1.0h-1.0zM548.0 533.5h1.0v1.0h-1.0zM306.3 515.7h1.2v1.2h-1.2zM292.6 537.1h1.2v1.2h-1.2zM637.2 517.1h2.0v2.0h-2.0zM638.1 520.6h1.2v1.2h-1.2zM576.1 519.1h1.0v1.0h-1.0zM304.1 517.9h1.2v1.2h-1.2zM573.3 528.2h2.0v2.0h-2.0zM227.1 514.8h1.0v1.0h-1.0zM292.8 518.1h1.0v1.0h-1.0zM590.5 515.6h1.0v1.0h-1.0zM265.9 518.0h1.0v1.0h-1.0zM524.6 516.4h1.0v1.0h-1.0zM643.0 515.0h1.7v1.7h-1.7zM562.5 524.8h2.0v2.0h-2.0zM611.9 524.7h0.9v0.9h-0.9zM582.1 548.2h1.0v1.0h-1.0zM237.4 516.3h1.0v1.0h-1.0zM529.8 550.8h1.7v1.7h-1.7zM527.4 529.0h1.4v1.4h-1.4zM545.7 552.9h1.4v1.4h-1.4zM537.6 531.4h1.0v1.0h-1.0zM533.9 548.9h2.0v2.0h-2.0zM257.2 515.0h1.0v1.0h-1.0zM545.9 521.1h1.7v1.7h-1.7zM532.4 525.5h1.0v1.0h-1.0zM291.7 529.6h1.2v1.2h-1.2zM535.2 515.5h0.9v0.9h-0.9zM218.6 514.7h1.2v1.2h-1.2zM551.5 520.9h1.2v1.2h-1.2zM554.4 538.7h2.0v2.0h-2.0zM296.1 517.0h1.0v1.0h-1.0zM538.6 552.3h1.4v1.4h-1.4zM282.7 542.6h1.2v1.2h-1.2zM271.7 528.8h0.9v0.9h-0.9zM312.0 547.2h2.0v2.0h-2.0zM305.4 545.5h1.7v1.7h-1.7zM528.9 551.5h1.7v1.7h-1.7zM525.1 533.9h1.0v1.0h-1.0zM229.1 516.6h1.2v1.2h-1.2zM633.0 518.3h0.9v0.9h-0.9zM574.8 528.6h1.0v1.0h-1.0zM244.4 522.6h1.7v1.7h-1.7zM238.3 522.3h1.0v1.0h-1.0zM628.2 518.0h0.9v0.9h-0.9zM619.9 530.7h1.0v1.0h-1.0zM555.2 522.6h1.7v1.7h-1.7zM283.3 515.1h1.4v1.4h-1.4zM301.8 529.3h0.9v0.9h-0.9zM547.0 519.3h0.9v0.9h-0.9zM306.8 546.7h1.0v1.0h-1.0zM619.2 517.0h1.4v1.4h-1.4zM608.1 528.4h1.2v1.2h-1.2zM620.3 523.3h1.0v1.0h-1.0zM530.4 527.9h1.0v1.0h-1.0zM226.3 520.3h2.0v2.0h-2.0zM526.4 535.5h2.0v2.0h-2.0zM544.8 547.1h1.4v1.4h-1.4zM537.4 562.6h1.2v1.2h-1.2zM583.2 536.7h1.0v1.0h-1.0zM544.1 547.4h1.2v1.2h-1.2zM626.9 524.6h2.0v2.0h-2.0zM282.9 521.9h1.2v1.2h-1.2zM552.6 517.0h1.0v1.0h-1.0zM525.6 561.0h0.9v0.9h-0.9zM583.4 531.6h0.9v0.9h-0.9z"/>
<path fill="#e0b450" d="M375.8 592.5h2.0v2.0h-2.0zM460.7 529.6h1.0v1.0h-1.0zM499.7 568.0h0.9v0.9h-0.9zM390.2 523.9h1.7v1.7h-1.7zM367.7 534.8h1.0v1.0h-1.0zM368.9 538.2h1.0v1.0h-1.0zM453.0 523.8h0.9v0.9h-0.9zM472.0 548.3h1.7v1.7h-1.7zM481.4 523.2h1.0v1.0h-1.0zM494.3 543.2h1.2v1.2h-1.2zM237.2 524.1h1.0v1.0h-1.0zM361.4 549.9h1.4v1.4h-1.4zM513.7 527.9h1.0v1.0h-1.0zM389.3 527.8h2.0v2.0h-2.0zM357.2 553.4h2.0v2.0h-2.0zM455.1 599.0h1.0v1.0h-1.0zM352.1 569.9h1.4v1.4h-1.4zM391.8 529.6h0.9v0.9h-0.9zM384.3 534.6h1.7v1.7h-1.7zM383.6 541.1h1.7v1.7h-1.7zM378.3 524.7h1.2v1.2h-1.2zM491.3 530.3h1.7v1.7h-1.7zM319.7 539.1h1.4v1.4h-1.4zM456.2 592.2h2.0v2.0h-2.0zM266.1 531.7h0.9v0.9h-0.9zM319.5 525.9h0.9v0.9h-0.9zM474.6 561.5h1.4v1.4h-1.4zM291.1 527.7h1.4v1.4h-1.4zM376.1 519.7h1.7v1.7h-1.7zM511.0 525.2h1.7v1.7h-1.7zM447.2 558.5h0.9v0.9h-0.9zM442.9 517.7h2.0v2.0h-2.0zM389.5 529.7h1.0v1.0h-1.0zM479.2 534.9h1.0v1.0h-1.0zM372.0 577.2h1.7v1.7h-1.7zM393.2 526.3h1.2v1.2h-1.2zM378.9 557.7h2.0v2.0h-2.0zM462.5 517.0h1.7v1.7h-1.7zM390.5 520.7h1.0v1.0h-1.0zM321.2 522.0h1.7v1.7h-1.7zM466.2 592.7h0.9v0.9h-0.9zM386.7 543.3h1.4v1.4h-1.4zM495.2 521.2h1.4v1.4h-1.4zM297.4 546.3h0.9v0.9h-0.9zM383.3 534.5h1.7v1.7h-1.7zM346.5 522.5h1.0v1.0h-1.0zM338.6 574.6h1.2v1.2h-1.2zM367.8 530.2h1.7v1.7h-1.7zM389.3 596.6h0.9v0.9h-0.9zM482.5 533.7h1.0v1.0h-1.0zM360.2 515.0h1.0v1.0h-1.0zM519.2 526.9h0.9v0.9h-0.9zM509.0 518.9h2.0v2.0h-2.0zM394.1 515.8h2.0v2.0h-2.0zM375.7 534.9h0.9v0.9h-0.9zM366.5 555.7h2.0v2.0h-2.0zM381.6 535.0h0.9v0.9h-0.9zM611.2 516.9h1.7v1.7h-1.7zM356.6 537.5h1.0v1.0h-1.0zM454.2 553.1h1.2v1.2h-1.2zM449.1 566.3h1.2v1.2h-1.2zM455.2 532.4h1.0v1.0h-1.0zM522.0 532.9h1.0v1.0h-1.0zM345.5 522.7h0.9v0.9h-0.9zM394.6 529.7h1.0v1.0h-1.0zM472.8 535.5h2.0v2.0h-2.0zM520.1 537.6h1.7v1.7h-1.7zM365.3 525.4h1.7v1.7h-1.7zM522.5 547.8h1.0v1.0h-1.0zM394.4 556.3h2.0v2.0h-2.0zM358.1 543.0h0.9v0.9h-0.9zM368.6 522.5h1.0v1.0h-1.0zM608.7 516.1h1.7v1.7h-1.7zM292.7 520.3h1.4v1.4h-1.4zM380.3 524.9h2.0v2.0h-2.0zM451.5 539.1h1.2v1.2h-1.2zM465.8 563.7h1.4v1.4h-1.4zM449.7 524.5h2.0v2.0h-2.0zM493.9 537.0h1.7v1.7h-1.7zM391.2 547.5h1.0v1.0h-1.0zM514.2 517.2h0.9v0.9h-0.9zM388.6 521.0h1.2v1.2h-1.2zM363.5 520.1h1.4v1.4h-1.4zM392.9 539.3h1.0v1.0h-1.0zM450.6 556.8h1.7v1.7h-1.7zM491.6 534.6h1.7v1.7h-1.7zM280.0 518.1h1.7v1.7h-1.7zM503.8 518.7h2.0v2.0h-2.0zM355.0 530.2h1.4v1.4h-1.4zM341.1 583.2h0.9v0.9h-0.9zM317.5 527.9h1.4v1.4h-1.4zM367.9 557.9h1.0v1.0h-1.0zM493.2 540.8h2.0v2.0h-2.0zM384.4 553.6h1.0v1.0h-1.0zM390.0 534.9h1.7v1.7h-1.7zM372.3 525.8h1.0v1.0h-1.0zM346.9 514.6h1.0v1.0h-1.0zM346.8 528.8h1.0v1.0h-1.0zM471.2 589.0h0.9v0.9h-0.9zM471.7 532.6h1.0v1.0h-1.0zM494.3 574.2h1.0v1.0h-1.0zM379.6 542.8h2.0v2.0h-2.0zM478.0 533.7h1.0v1.0h-1.0zM458.4 524.4h1.2v1.2h-1.2zM458.2 565.6h2.0v2.0h-2.0zM384.7 516.8h2.0v2.0h-2.0zM391.8 545.2h2.0v2.0h-2.0zM392.8 534.2h0.9v0.9h-0.9zM453.3 545.0h1.0v1.0h-1.0zM359.3 539.7h0.9v0.9h-0.9zM379.9 523.7h1.2v1.2h-1.2zM482.4 539.9h1.0v1.0h-1.0zM345.2 546.2h1.0v1.0h-1.0zM379.8 524.3h1.0v1.0h-1.0zM557.7 533.4h1.0v1.0h-1.0zM368.1 543.5h1.0v1.0h-1.0zM341.9 553.4h2.0v2.0h-2.0zM388.2 522.7h1.2v1.2h-1.2zM383.9 544.0h1.4v1.4h-1.4zM374.1 521.7h1.2v1.2h-1.2zM464.7 562.2h1.4v1.4h-1.4zM467.7 554.3h0.9v0.9h-0.9zM443.9 586.2h2.0v2.0h-2.0zM359.4 550.5h1.7v1.7h-1.7zM498.4 549.7h1.2v1.2h-1.2zM469.6 531.9h2.0v2.0h-2.0zM363.8 542.5h1.2v1.2h-1.2zM366.2 523.9h1.4v1.4h-1.4zM519.2 522.5h1.7v1.7h-1.7zM376.1 563.7h1.2v1.2h-1.2zM373.4 521.3h1.2v1.2h-1.2zM449.0 545.1h1.4v1.4h-1.4zM355.3 553.1h1.7v1.7h-1.7zM252.9 535.3h2.0v2.0h-2.0zM499.9 591.9h1.0v1.0h-1.0zM466.5 551.4h2.0v2.0h-2.0zM517.5 545.5h1.0v1.0h-1.0zM457.3 528.6h1.7v1.7h-1.7zM393.2 522.6h1.7v1.7h-1.7zM384.0 540.3h1.0v1.0h-1.0zM466.4 561.8h1.7v1.7h-1.7zM480.9 530.1h0.9v0.9h-0.9zM453.3 615.6h1.0v1.0h-1.0zM499.1 573.9h1.4v1.4h-1.4zM380.3 518.2h0.9v0.9h-0.9zM385.6 526.0h1.2v1.2h-1.2zM353.3 554.7h1.0v1.0h-1.0zM329.0 521.8h1.0v1.0h-1.0zM369.6 533.1h1.0v1.0h-1.0zM616.1 523.7h0.9v0.9h-0.9zM441.4 569.7h1.2v1.2h-1.2zM337.5 521.8h1.0v1.0h-1.0zM444.1 549.5h1.0v1.0h-1.0zM371.0 562.4h2.0v2.0h-2.0zM462.1 578.9h1.0v1.0h-1.0zM354.9 527.8h1.7v1.7h-1.7zM480.8 557.6h1.2v1.2h-1.2zM319.5 517.8h2.0v2.0h-2.0zM459.4 556.4h1.2v1.2h-1.2zM515.0 524.1h1.7v1.7h-1.7zM480.3 515.0h1.0v1.0h-1.0zM444.6 543.5h1.0v1.0h-1.0zM373.4 522.0h0.9v0.9h-0.9zM379.5 538.7h1.0v1.0h-1.0zM380.2 550.6h1.0v1.0h-1.0zM509.5 534.5h1.0v1.0h-1.0zM464.5 589.2h1.0v1.0h-1.0zM455.4 543.6h1.0v1.0h-1.0zM478.1 533.3h1.7v1.7h-1.7zM343.8 524.6h0.9v0.9h-0.9zM370.3 524.6h1.4v1.4h-1.4zM521.9 524.9h1.0v1.0h-1.0zM381.6 558.8h1.0v1.0h-1.0zM359.5 544.6h1.0v1.0h-1.0zM379.2 543.6h1.0v1.0h-1.0zM361.9 520.1h1.2v1.2h-1.2zM443.6 527.4h1.2v1.2h-1.2zM320.2 518.4h1.0v1.0h-1.0zM380.1 517.6h0.9v0.9h-0.9zM393.7 522.4h1.0v1.0h-1.0zM492.7 556.5h1.7v1.7h-1.7zM447.4 524.4h1.4v1.4h-1.4zM330.5 530.8h1.2v1.2h-1.2zM223.0 521.5h2.0v2.0h-2.0zM507.9 538.1h1.0v1.0h-1.0zM508.1 528.1h2.0v2.0h-2.0zM460.0 516.4h1.0v1.0h-1.0zM447.1 536.2h1.0v1.0h-1.0zM370.2 571.7h1.7v1.7h-1.7zM492.3 541.5h0.9v0.9h-0.9zM445.4 520.3h1.0v1.0h-1.0zM349.0 522.5h1.0v1.0h-1.0zM447.1 546.9h1.0v1.0h-1.0zM487.5 522.4h2.0v2.0h-2.0zM363.8 564.1h1.4v1.4h-1.4zM451.5 517.4h1.2v1.2h-1.2zM456.3 535.8h1.7v1.7h-1.7zM331.2 543.5h1.0v1.0h-1.0zM337.1 529.2h1.0v1.0h-1.0zM469.5 547.8h1.4v1.4h-1.4zM478.9 556.3h1.2v1.2h-1.2zM498.3 525.2h1.7v1.7h-1.7zM468.4 518.1h2.0v2.0h-2.0zM516.6 518.1h1.0v1.0h-1.0zM463.6 549.7h2.0v2.0h-2.0zM476.2 518.3h1.0v1.0h-1.0zM521.3 516.3h1.2v1.2h-1.2zM490.7 523.6h1.2v1.2h-1.2zM456.8 542.6h1.7v1.7h-1.7zM441.2 526.6h1.2v1.2h-1.2zM395.3 525.3h1.7v1.7h-1.7zM442.0 532.4h1.2v1.2h-1.2zM444.4 605.6h1.2v1.2h-1.2zM466.9 577.6h1.2v1.2h-1.2zM474.3 520.1h2.0v2.0h-2.0zM331.6 526.3h1.2v1.2h-1.2zM447.1 528.5h1.2v1.2h-1.2zM511.6 523.6h1.4v1.4h-1.4zM464.8 568.6h0.9v0.9h-0.9zM373.0 555.9h1.2v1.2h-1.2zM390.0 541.1h1.7v1.7h-1.7zM375.9 572.5h0.9v0.9h-0.9zM457.9 540.5h1.4v1.4h-1.4zM277.9 519.8h1.7v1.7h-1.7zM450.5 565.5h2.0v2.0h-2.0zM360.2 525.6h0.9v0.9h-0.9zM511.7 540.4h1.0v1.0h-1.0zM314.9 551.7h1.0v1.0h-1.0zM473.8 545.5h1.0v1.0h-1.0zM365.4 522.7h2.0v2.0h-2.0zM367.2 538.9h1.0v1.0h-1.0zM442.9 522.3h1.4v1.4h-1.4zM459.5 529.8h1.7v1.7h-1.7zM453.6 534.8h1.2v1.2h-1.2zM533.5 553.7h1.4v1.4h-1.4z"/>
<path fill="#e8c670" d="M464.3 516.6h1.2v1.2h-1.2zM329.4 543.7h1.2v1.2h-1.2zM393.8 557.6h2.0v2.0h-2.0zM369.2 568.0h1.4v1.4h-1.4zM548.5 533.5h2.0v2.0h-2.0zM501.9 534.6h0.9v0.9h-0.9zM444.8 522.9h1.4v1.4h-1.4zM448.8 523.0h1.7v1.7h-1.7zM494.0 527.8h1.4v1.4h-1.4zM475.5 548.2h1.0v1.0h-1.0zM518.0 524.7h2.0v2.0h-2.0zM349.6 518.8h1.4v1.4h-1.4zM469.4 516.7h0.9v0.9h-0.9zM514.2 529.7h1.0v1.0h-1.0zM373.0 521.6h1.4v1.4h-1.4zM443.1 541.0h0.9v0.9h-0.9zM374.3 580.1h1.0v1.0h-1.0zM477.4 536.8h0.9v0.9h-0.9zM319.0 523.9h0.9v0.9h-0.9zM361.9 515.2h1.7v1.7h-1.7zM340.3 541.8h1.7v1.7h-1.7zM467.9 517.4h1.0v1.0h-1.0zM474.8 574.3h0.9v0.9h-0.9zM499.7 548.3h1.7v1.7h-1.7zM480.7 529.6h1.0v1.0h-1.0zM479.2 522.4h0.9v0.9h-0.9zM447.5 549.1h1.7v1.7h-1.7zM481.0 516.7h2.0v2.0h-2.0zM485.2 520.9h1.0v1.0h-1.0zM339.1 527.5h1.0v1.0h-1.0zM338.4 515.5h1.0v1.0h-1.0zM465.6 516.9h1.0v1.0h-1.0zM489.8 522.1h1.7v1.7h-1.7zM370.7 542.3h1.4v1.4h-1.4zM364.4 515.6h0.9v0.9h-0.9zM494.0 555.6h1.0v1.0h-1.0zM365.0 531.2h2.0v2.0h-2.0zM454.4 576.4h1.2v1.2h-1.2zM450.8 523.5h2.0v2.0h-2.0zM518.4 549.8h1.0v1.0h-1.0zM503.1 522.1h2.0v2.0h-2.0zM515.6 518.4h1.4v1.4h-1.4zM463.4 574.1h1.2v1.2h-1.2zM335.0 557.2h1.4v1.4h-1.4zM310.7 515.2h1.2v1.2h-1.2zM387.9 536.7h1.0v1.0h-1.0zM387.4 526.8h1.2v1.2h-1.2zM462.0 538.4h1.0v1.0h-1.0zM467.9 516.1h1.0v1.0h-1.0zM463.6 535.3h1.7v1.7h-1.7zM617.1 516.4h1.0v1.0h-1.0zM350.8 518.3h1.4v1.4h-1.4zM394.4 551.6h1.7v1.7h-1.7zM394.2 521.6h1.2v1.2h-1.2zM344.6 517.7h0.9v0.9h-0.9zM316.5 521.1h0.9v0.9h-0.9zM372.6 538.6h2.0v2.0h-2.0zM489.5 529.7h1.4v1.4h-1.4zM471.0 544.9h1.0v1.0h-1.0zM470.2 524.7h1.2v1.2h-1.2zM463.7 544.8h1.7v1.7h-1.7zM388.7 554.7h1.4v1.4h-1.4zM469.4 535.6h1.4v1.4h-1.4zM346.4 519.1h2.0v2.0h-2.0zM461.7 515.9h1.0v1.0h-1.0zM221.2 520.2h1.7v1.7h-1.7zM441.7 603.2h1.4v1.4h-1.4zM477.1 517.2h1.0v1.0h-1.0zM362.5 529.5h2.0v2.0h-2.0zM467.4 547.3h1.0v1.0h-1.0zM454.6 526.8h2.0v2.0h-2.0zM456.2 545.8h1.2v1.2h-1.2zM373.0 516.5h0.9v0.9h-0.9zM452.3 551.7h1.7v1.7h-1.7zM385.5 540.7h0.9v0.9h-0.9zM454.9 524.8h1.0v1.0h-1.0zM340.1 538.2h1.7v1.7h-1.7zM330.4 529.5h1.0v1.0h-1.0zM228.8 516.6h1.2v1.2h-1.2zM456.7 568.4h1.4v1.4h-1.4zM367.3 517.7h1.7v1.7h-1.7zM458.6 545.2h1.0v1.0h-1.0zM354.9 555.6h2.0v2.0h-2.0zM317.7 515.2h1.4v1.4h-1.4zM352.7 515.1h0.9v0.9h-0.9zM547.5 529.0h1.0v1.0h-1.0zM356.1 559.0h1.0v1.0h-1.0zM518.2 541.3h1.0v1.0h-1.0zM383.0 560.3h1.4v1.4h-1.4zM478.4 523.1h2.0v2.0h-2.0zM570.0 541.0h1.0v1.0h-1.0zM478.1 542.3h0.9v0.9h-0.9zM367.7 517.2h1.2v1.2h-1.2zM369.9 526.7h0.9v0.9h-0.9zM522.2 536.7h2.0v2.0h-2.0zM483.8 576.5h2.0v2.0h-2.0zM443.6 553.3h1.0v1.0h-1.0zM361.1 528.5h1.0v1.0h-1.0zM482.8 517.7h1.2v1.2h-1.2zM339.4 538.6h0.9v0.9h-0.9zM345.3 527.8h1.2v1.2h-1.2zM462.0 522.6h1.7v1.7h-1.7zM366.9 548.3h1.4v1.4h-1.4zM506.2 567.9h1.0v1.0h-1.0zM513.3 573.3h2.0v2.0h-2.0zM384.0 544.3h1.2v1.2h-1.2zM477.4 554.9h1.2v1.2h-1.2zM456.8 515.4h1.2v1.2h-1.2zM393.5 516.6h2.0v2.0h-2.0zM460.7 531.7h1.7v1.7h-1.7zM391.9 550.3h1.7v1.7h-1.7zM460.4 521.5h1.7v1.7h-1.7zM220.5 515.9h1.0v1.0h-1.0zM310.9 519.3h1.7v1.7h-1.7zM325.8 539.6h1.2v1.2h-1.2zM446.3 529.9h0.9v0.9h-0.9zM536.7 554.8h1.0v1.0h-1.0zM319.0 563.3h1.0v1.0h-1.0zM462.1 564.5h0.9v0.9h-0.9zM463.8 584.0h1.0v1.0h-1.0zM457.6 516.0h0.9v0.9h-0.9zM206.7 514.7h1.7v1.7h-1.7zM393.8 529.4h2.0v2.0h-2.0zM445.5 520.8h1.7v1.7h-1.7zM338.5 559.1h2.0v2.0h-2.0zM452.2 542.2h0.9v0.9h-0.9zM617.5 521.0h1.0v1.0h-1.0zM491.6 535.8h1.2v1.2h-1.2zM515.0 516.5h1.7v1.7h-1.7zM333.7 533.1h1.2v1.2h-1.2zM373.3 537.7h1.7v1.7h-1.7zM385.1 556.3h1.7v1.7h-1.7zM374.5 520.9h1.0v1.0h-1.0zM446.0 534.2h2.0v2.0h-2.0zM386.0 534.2h1.4v1.4h-1.4zM485.5 539.1h1.0v1.0h-1.0zM513.3 527.4h1.0v1.0h-1.0zM449.4 543.6h1.0v1.0h-1.0zM502.5 548.4h2.0v2.0h-2.0zM468.5 522.8h1.7v1.7h-1.7zM475.9 591.3h0.9v0.9h-0.9zM385.4 536.1h1.2v1.2h-1.2zM376.4 542.0h1.2v1.2h-1.2zM448.3 544.6h1.4v1.4h-1.4zM369.3 525.1h1.4v1.4h-1.4zM454.3 553.8h1.7v1.7h-1.7zM444.8 532.5h1.0v1.0h-1.0zM494.4 549.8h1.0v1.0h-1.0zM372.2 532.3h1.0v1.0h-1.0zM358.5 523.0h0.9v0.9h-0.9zM509.9 524.9h1.7v1.7h-1.7zM316.5 532.3h2.0v2.0h-2.0zM501.7 514.6h1.2v1.2h-1.2zM387.3 515.6h1.4v1.4h-1.4zM332.9 534.8h1.2v1.2h-1.2zM497.1 548.5h2.0v2.0h-2.0zM323.6 550.6h2.0v2.0h-2.0zM373.7 538.0h1.4v1.4h-1.4zM455.3 515.8h1.0v1.0h-1.0zM366.4 535.2h1.4v1.4h-1.4zM479.6 546.2h0.9v0.9h-0.9zM342.9 541.0h1.2v1.2h-1.2zM461.6 530.9h1.0v1.0h-1.0zM499.3 516.9h1.4v1.4h-1.4zM334.1 542.4h1.0v1.0h-1.0zM446.3 544.6h1.2v1.2h-1.2zM474.8 516.1h1.0v1.0h-1.0zM384.3 564.0h2.0v2.0h-2.0zM391.9 533.4h1.2v1.2h-1.2zM358.8 514.8h1.4v1.4h-1.4zM440.6 526.8h1.7v1.7h-1.7zM345.8 526.8h1.7v1.7h-1.7zM496.2 558.3h1.7v1.7h-1.7zM348.1 559.6h1.4v1.4h-1.4zM391.3 562.2h1.0v1.0h-1.0zM387.8 536.9h1.0v1.0h-1.0zM367.8 528.1h2.0v2.0h-2.0zM385.9 515.1h2.0v2.0h-2.0zM379.3 558.8h1.2v1.2h-1.2zM299.9 536.9h2.0v2.0h-2.0zM450.9 518.8h0.9v0.9h-0.9zM440.2 589.9h2.0v2.0h-2.0zM331.5 526.4h1.0v1.0h-1.0zM483.4 557.4h1.0v1.0h-1.0zM440.1 542.9h1.2v1.2h-1.2zM356.6 526.0h1.7v1.7h-1.7zM379.3 518.4h1.2v1.2h-1.2zM381.4 555.9h1.7v1.7h-1.7zM441.5 544.9h1.7v1.7h-1.7zM457.3 558.4h1.2v1.2h-1.2zM443.9 550.1h1.4v1.4h-1.4zM488.8 550.1h2.0v2.0h-2.0zM442.1 519.8h1.7v1.7h-1.7zM321.3 542.7h0.9v0.9h-0.9zM343.4 534.1h1.7v1.7h-1.7zM319.8 536.1h1.4v1.4h-1.4zM392.7 532.4h1.0v1.0h-1.0zM326.6 541.4h1.0v1.0h-1.0zM344.3 535.6h2.0v2.0h-2.0zM372.3 534.4h1.0v1.0h-1.0zM446.7 570.2h1.2v1.2h-1.2zM263.1 531.3h1.4v1.4h-1.4zM345.5 515.7h1.4v1.4h-1.4zM490.6 522.2h0.9v0.9h-0.9zM452.9 536.7h2.0v2.0h-2.0zM446.0 541.2h1.0v1.0h-1.0zM382.6 535.7h1.0v1.0h-1.0zM379.8 522.7h1.4v1.4h-1.4zM360.5 516.0h0.9v0.9h-0.9zM338.2 554.3h1.7v1.7h-1.7zM477.4 514.6h0.9v0.9h-0.9zM387.5 545.2h0.9v0.9h-0.9zM259.6 519.2h1.0v1.0h-1.0zM461.0 542.1h1.0v1.0h-1.0zM353.0 553.3h1.4v1.4h-1.4zM307.2 524.8h0.9v0.9h-0.9zM444.5 570.6h2.0v2.0h-2.0zM390.8 533.7h0.9v0.9h-0.9zM440.4 570.6h1.0v1.0h-1.0zM504.1 537.5h1.0v1.0h-1.0zM331.1 530.8h0.9v0.9h-0.9zM468.5 554.6h1.4v1.4h-1.4z"/>
<path fill="#f6ecd0" d="M335.6 532.5h1.0v1.0h-1.0zM364.1 517.5h0.9v0.9h-0.9zM445.9 560.1h0.9v0.9h-0.9zM521.5 533.3h1.2v1.2h-1.2zM348.3 532.9h1.4v1.4h-1.4zM541.2 547.5h0.9v0.9h-0.9zM366.7 536.7h1.2v1.2h-1.2zM395.3 604.1h0.9v0.9h-0.9zM394.1 529.9h0.9v0.9h-0.9zM381.8 542.2h0.9v0.9h-0.9zM472.3 519.2h1.7v1.7h-1.7zM447.9 552.6h1.0v1.0h-1.0zM503.3 523.5h1.0v1.0h-1.0zM457.6 554.3h2.0v2.0h-2.0zM467.0 536.3h0.9v0.9h-0.9zM372.8 530.3h1.4v1.4h-1.4zM395.3 533.3h1.4v1.4h-1.4zM471.0 538.2h2.0v2.0h-2.0zM477.5 530.2h1.4v1.4h-1.4zM458.1 539.1h1.0v1.0h-1.0zM489.4 530.1h1.4v1.4h-1.4zM386.4 559.9h1.0v1.0h-1.0zM386.9 552.6h1.4v1.4h-1.4zM290.3 527.0h0.9v0.9h-0.9zM629.1 520.8h1.0v1.0h-1.0zM457.1 514.9h1.0v1.0h-1.0zM336.7 528.7h0.9v0.9h-0.9zM389.0 569.6h1.4v1.4h-1.4zM483.8 523.0h1.7v1.7h-1.7zM519.9 563.3h1.7v1.7h-1.7zM360.2 571.9h0.9v0.9h-0.9zM449.2 518.0h1.2v1.2h-1.2zM324.6 532.9h1.2v1.2h-1.2zM648.6 517.4h1.0v1.0h-1.0zM475.4 516.6h1.2v1.2h-1.2zM322.1 518.7h1.2v1.2h-1.2zM390.7 543.4h1.4v1.4h-1.4zM333.0 564.1h2.0v2.0h-2.0zM342.5 522.3h1.0v1.0h-1.0zM368.4 519.3h2.0v2.0h-2.0zM354.8 552.9h1.0v1.0h-1.0zM482.3 530.3h1.0v1.0h-1.0zM348.1 538.2h2.0v2.0h-2.0zM361.2 523.9h1.4v1.4h-1.4zM460.8 520.0h1.4v1.4h-1.4zM475.6 554.2h1.4v1.4h-1.4zM459.2 576.4h1.7v1.7h-1.7zM391.2 520.1h1.2v1.2h-1.2zM515.1 522.6h2.0v2.0h-2.0zM348.6 549.5h1.2v1.2h-1.2zM468.2 518.2h2.0v2.0h-2.0zM384.8 527.8h1.4v1.4h-1.4zM445.0 524.2h0.9v0.9h-0.9zM485.8 529.4h1.2v1.2h-1.2zM394.4 576.1h1.0v1.0h-1.0zM481.2 546.3h1.2v1.2h-1.2zM473.3 521.2h1.7v1.7h-1.7zM383.3 547.8h2.0v2.0h-2.0zM480.0 519.5h2.0v2.0h-2.0zM233.4 523.4h1.0v1.0h-1.0zM383.2 536.3h1.2v1.2h-1.2zM386.1 568.2h0.9v0.9h-0.9zM443.7 604.0h1.0v1.0h-1.0zM385.4 526.5h1.4v1.4h-1.4zM364.0 532.3h1.7v1.7h-1.7zM509.7 527.3h1.0v1.0h-1.0zM304.6 516.8h1.0v1.0h-1.0zM363.1 543.1h1.7v1.7h-1.7zM525.7 523.7h0.9v0.9h-0.9zM349.7 536.8h1.0v1.0h-1.0zM335.0 528.4h1.7v1.7h-1.7zM318.4 543.2h1.2v1.2h-1.2zM465.1 549.8h1.4v1.4h-1.4zM346.8 516.7h2.0v2.0h-2.0zM359.8 515.9h1.7v1.7h-1.7zM442.9 519.7h1.2v1.2h-1.2zM502.5 550.5h0.9v0.9h-0.9zM443.3 519.8h1.4v1.4h-1.4zM632.8 516.5h1.0v1.0h-1.0zM474.3 562.3h1.4v1.4h-1.4zM468.9 532.8h1.0v1.0h-1.0zM296.8 524.7h1.2v1.2h-1.2zM632.9 519.5h1.0v1.0h-1.0zM348.3 519.0h1.0v1.0h-1.0zM450.1 584.5h1.4v1.4h-1.4zM351.8 547.2h1.0v1.0h-1.0zM252.0 515.9h1.7v1.7h-1.7zM460.1 556.7h1.7v1.7h-1.7zM352.3 549.1h1.0v1.0h-1.0zM513.2 557.1h1.0v1.0h-1.0zM364.4 516.5h0.9v0.9h-0.9zM482.2 522.4h1.7v1.7h-1.7zM377.6 549.7h1.4v1.4h-1.4zM466.8 553.7h1.4v1.4h-1.4zM395.0 536.3h0.9v0.9h-0.9zM329.4 529.4h2.0v2.0h-2.0zM395.0 565.3h1.7v1.7h-1.7zM347.1 557.7h1.4v1.4h-1.4zM461.7 535.1h1.0v1.0h-1.0zM390.1 514.6h1.4v1.4h-1.4zM449.2 593.8h0.9v0.9h-0.9zM447.2 560.4h1.7v1.7h-1.7zM376.6 576.6h0.9v0.9h-0.9zM466.4 551.1h1.0v1.0h-1.0zM370.3 543.2h1.0v1.0h-1.0zM341.8 519.3h1.0v1.0h-1.0zM452.4 552.6h2.0v2.0h-2.0zM480.0 553.0h0.9v0.9h-0.9zM504.7 536.5h1.2v1.2h-1.2zM394.2 545.2h1.7v1.7h-1.7zM446.5 526.8h1.4v1.4h-1.4zM362.8 552.3h1.0v1.0h-1.0zM361.7 532.3h1.4v1.4h-1.4zM391.0 515.4h0.9v0.9h-0.9zM363.2 517.3h0.9v0.9h-0.9zM504.7 520.1h0.9v0.9h-0.9zM477.7 525.8h0.9v0.9h-0.9zM466.6 536.3h1.0v1.0h-1.0zM490.5 527.6h0.9v0.9h-0.9zM441.1 588.5h1.0v1.0h-1.0zM356.9 521.4h1.2v1.2h-1.2zM481.1 527.4h2.0v2.0h-2.0zM476.9 520.4h0.9v0.9h-0.9zM455.2 525.3h1.7v1.7h-1.7zM364.8 535.9h1.7v1.7h-1.7zM476.8 577.8h1.0v1.0h-1.0zM244.4 517.5h1.2v1.2h-1.2zM369.3 585.0h1.2v1.2h-1.2zM322.2 531.3h1.4v1.4h-1.4zM344.7 517.3h1.2v1.2h-1.2zM385.4 532.5h2.0v2.0h-2.0zM387.3 520.3h1.0v1.0h-1.0zM465.4 549.7h1.4v1.4h-1.4zM567.8 519.1h1.0v1.0h-1.0zM460.9 602.6h1.4v1.4h-1.4zM365.7 515.5h0.9v0.9h-0.9zM441.0 556.5h1.7v1.7h-1.7zM390.3 520.6h0.9v0.9h-0.9zM451.5 580.0h0.9v0.9h-0.9zM477.2 549.8h1.7v1.7h-1.7zM350.7 521.3h1.0v1.0h-1.0zM481.1 577.6h1.0v1.0h-1.0zM390.6 538.1h1.0v1.0h-1.0zM464.9 537.7h1.7v1.7h-1.7zM360.3 551.7h1.4v1.4h-1.4zM379.3 532.7h1.2v1.2h-1.2zM350.8 546.9h0.9v0.9h-0.9zM440.3 534.2h1.7v1.7h-1.7zM371.1 518.3h1.0v1.0h-1.0zM381.8 591.5h1.2v1.2h-1.2zM361.9 547.6h1.0v1.0h-1.0zM473.3 534.3h1.7v1.7h-1.7zM266.8 525.1h1.2v1.2h-1.2zM355.6 554.5h1.0v1.0h-1.0zM375.7 518.1h2.0v2.0h-2.0zM329.4 562.1h1.2v1.2h-1.2zM390.7 533.8h1.0v1.0h-1.0zM450.8 550.2h1.0v1.0h-1.0zM346.1 530.0h1.7v1.7h-1.7zM566.4 522.1h1.7v1.7h-1.7zM350.6 535.1h1.0v1.0h-1.0zM466.5 516.2h1.0v1.0h-1.0zM391.1 516.3h2.0v2.0h-2.0zM353.1 526.3h1.4v1.4h-1.4zM610.2 516.9h1.0v1.0h-1.0zM386.8 521.5h2.0v2.0h-2.0zM368.4 523.0h2.0v2.0h-2.0zM308.3 543.1h1.7v1.7h-1.7zM359.7 559.1h1.7v1.7h-1.7zM361.7 558.2h1.0v1.0h-1.0zM455.9 559.3h1.0v1.0h-1.0zM324.8 524.5h0.9v0.9h-0.9zM366.8 527.0h1.7v1.7h-1.7zM385.9 547.1h1.0v1.0h-1.0zM490.5 546.9h1.0v1.0h-1.0zM395.0 518.1h1.7v1.7h-1.7zM344.0 548.0h1.2v1.2h-1.2zM376.4 585.6h0.9v0.9h-0.9zM368.3 536.9h1.0v1.0h-1.0zM264.6 523.1h1.2v1.2h-1.2zM457.4 525.4h1.4v1.4h-1.4zM446.1 595.5h1.7v1.7h-1.7zM461.1 528.8h1.0v1.0h-1.0zM475.4 546.9h2.0v2.0h-2.0zM504.0 529.0h0.9v0.9h-0.9zM383.8 551.2h1.0v1.0h-1.0zM515.0 515.1h1.0v1.0h-1.0zM388.0 521.9h2.0v2.0h-2.0zM468.2 516.2h1.0v1.0h-1.0zM441.1 542.1h1.0v1.0h-1.0zM444.7 532.7h1.4v1.4h-1.4zM330.2 552.7h1.0v1.0h-1.0zM442.4 563.4h0.9v0.9h-0.9zM456.8 534.5h1.7v1.7h-1.7zM330.0 528.2h1.2v1.2h-1.2zM495.4 558.2h1.2v1.2h-1.2zM374.6 537.4h1.7v1.7h-1.7zM524.0 519.7h1.2v1.2h-1.2zM289.4 537.4h1.0v1.0h-1.0zM464.4 538.0h2.0v2.0h-2.0zM374.6 559.6h1.2v1.2h-1.2zM495.2 552.3h1.0v1.0h-1.0zM352.7 544.9h1.0v1.0h-1.0zM329.2 514.6h1.0v1.0h-1.0zM483.3 523.3h0.9v0.9h-0.9zM353.1 562.9h1.0v1.0h-1.0zM378.0 543.5h2.0v2.0h-2.0zM468.4 527.4h1.0v1.0h-1.0zM469.4 551.5h1.2v1.2h-1.2zM498.1 518.9h1.4v1.4h-1.4zM460.8 572.1h2.0v2.0h-2.0zM345.0 534.1h1.0v1.0h-1.0zM363.5 524.3h0.9v0.9h-0.9zM463.6 569.6h1.0v1.0h-1.0zM348.5 526.5h1.2v1.2h-1.2zM332.0 528.3h1.4v1.4h-1.4zM389.3 556.2h1.4v1.4h-1.4z"/>
<path fill="#e4bc58" d="M465.1 520.7h0.9v0.9h-0.9zM298.4 526.8h1.0v1.0h-1.0zM387.9 517.1h1.4v1.4h-1.4zM319.2 520.2h1.2v1.2h-1.2zM510.0 519.8h2.0v2.0h-2.0zM330.2 550.6h1.4v1.4h-1.4zM472.7 543.3h2.0v2.0h-2.0zM363.2 537.7h1.0v1.0h-1.0zM376.1 576.9h1.0v1.0h-1.0zM377.1 539.2h1.0v1.0h-1.0zM325.6 543.5h1.2v1.2h-1.2zM447.9 579.8h1.0v1.0h-1.0zM372.6 529.2h1.4v1.4h-1.4zM385.2 590.1h2.0v2.0h-2.0zM448.7 536.1h1.0v1.0h-1.0zM625.1 526.9h2.0v2.0h-2.0zM326.3 521.6h2.0v2.0h-2.0zM466.7 518.2h1.0v1.0h-1.0zM483.9 527.8h1.2v1.2h-1.2zM475.0 533.8h1.2v1.2h-1.2zM451.6 516.6h1.0v1.0h-1.0zM449.8 558.5h1.0v1.0h-1.0zM457.2 573.5h1.7v1.7h-1.7zM359.1 546.4h1.7v1.7h-1.7zM396.0 535.4h2.0v2.0h-2.0zM511.4 528.4h1.0v1.0h-1.0zM505.6 528.8h2.0v2.0h-2.0zM485.6 519.8h1.2v1.2h-1.2zM337.7 562.2h1.0v1.0h-1.0zM472.4 520.1h1.0v1.0h-1.0zM444.4 526.3h1.7v1.7h-1.7zM489.8 552.4h1.0v1.0h-1.0zM361.3 528.9h1.7v1.7h-1.7zM630.3 518.0h1.4v1.4h-1.4zM477.4 553.1h1.4v1.4h-1.4zM241.1 520.4h1.7v1.7h-1.7zM388.4 521.6h1.4v1.4h-1.4zM574.2 543.5h1.0v1.0h-1.0zM443.5 553.1h1.4v1.4h-1.4zM513.4 518.3h1.0v1.0h-1.0zM449.6 515.0h2.0v2.0h-2.0zM368.5 533.2h1.2v1.2h-1.2zM575.2 531.1h1.4v1.4h-1.4zM519.7 519.5h1.7v1.7h-1.7zM503.8 531.9h0.9v0.9h-0.9zM488.6 542.8h1.4v1.4h-1.4zM448.2 556.2h2.0v2.0h-2.0zM330.0 526.6h2.0v2.0h-2.0zM313.6 520.8h1.0v1.0h-1.0zM457.7 573.0h1.7v1.7h-1.7zM474.6 572.0h1.2v1.2h-1.2zM388.5 523.7h0.9v0.9h-0.9zM483.8 556.4h1.0v1.0h-1.0zM466.0 530.5h1.0v1.0h-1.0zM440.4 524.4h1.0v1.0h-1.0zM329.0 529.2h1.0v1.0h-1.0zM462.9 519.6h1.7v1.7h-1.7zM388.4 566.1h1.0v1.0h-1.0zM362.1 543.3h2.0v2.0h-2.0zM392.6 534.1h1.0v1.0h-1.0zM448.7 605.8h1.2v1.2h-1.2zM346.0 514.8h1.7v1.7h-1.7zM568.2 531.5h1.4v1.4h-1.4zM291.6 541.5h0.9v0.9h-0.9zM388.3 526.1h1.0v1.0h-1.0zM333.8 527.6h2.0v2.0h-2.0zM451.5 527.9h0.9v0.9h-0.9zM481.9 563.0h0.9v0.9h-0.9zM388.6 533.5h1.0v1.0h-1.0zM638.3 520.9h1.4v1.4h-1.4zM330.6 518.3h1.4v1.4h-1.4zM306.4 521.9h1.0v1.0h-1.0zM351.1 543.4h1.4v1.4h-1.4zM323.1 515.0h1.0v1.0h-1.0zM375.2 517.2h1.2v1.2h-1.2zM335.0 536.0h1.2v1.2h-1.2zM359.6 536.6h1.4v1.4h-1.4zM324.7 520.2h0.9v0.9h-0.9zM327.6 525.2h2.0v2.0h-2.0zM496.8 521.1h1.4v1.4h-1.4zM470.8 529.4h0.9v0.9h-0.9zM385.2 570.1h1.4v1.4h-1.4zM585.4 516.2h2.0v2.0h-2.0zM444.5 523.9h1.7v1.7h-1.7zM445.9 556.7h2.0v2.0h-2.0zM516.6 532.6h1.2v1.2h-1.2zM348.3 546.1h1.4v1.4h-1.4zM494.2 592.4h1.2v1.2h-1.2zM470.2 533.8h1.2v1.2h-1.2zM512.2 521.6h2.0v2.0h-2.0zM373.5 524.6h1.0v1.0h-1.0zM496.5 563.9h0.9v0.9h-0.9zM367.9 536.9h1.0v1.0h-1.0zM245.3 515.0h1.2v1.2h-1.2zM532.2 522.6h1.7v1.7h-1.7zM506.7 522.4h1.7v1.7h-1.7zM443.0 518.9h1.7v1.7h-1.7zM395.2 537.3h0.9v0.9h-0.9zM390.5 533.0h1.0v1.0h-1.0zM364.3 543.9h0.9v0.9h-0.9zM450.6 570.5h1.7v1.7h-1.7zM385.9 532.3h1.0v1.0h-1.0zM456.4 547.2h1.2v1.2h-1.2zM645.6 514.6h1.0v1.0h-1.0zM363.8 545.8h1.4v1.4h-1.4zM500.8 569.9h0.9v0.9h-0.9zM468.0 523.2h1.0v1.0h-1.0zM395.3 520.7h1.2v1.2h-1.2zM518.1 514.8h1.7v1.7h-1.7zM479.9 575.5h1.2v1.2h-1.2zM359.5 551.2h1.7v1.7h-1.7zM367.4 558.6h1.2v1.2h-1.2zM450.8 522.4h1.2v1.2h-1.2zM319.8 524.1h1.0v1.0h-1.0zM462.2 565.6h2.0v2.0h-2.0zM380.1 544.4h1.4v1.4h-1.4zM351.7 520.3h1.0v1.0h-1.0zM391.0 519.1h0.9v0.9h-0.9zM474.6 545.0h1.0v1.0h-1.0zM380.5 555.5h1.0v1.0h-1.0zM496.3 520.5h1.2v1.2h-1.2zM488.1 521.6h1.2v1.2h-1.2zM480.0 556.0h1.0v1.0h-1.0zM453.2 545.5h1.4v1.4h-1.4zM448.3 558.7h1.0v1.0h-1.0zM328.4 545.1h2.0v2.0h-2.0zM385.4 535.5h0.9v0.9h-0.9zM388.9 561.8h1.0v1.0h-1.0zM636.9 514.6h0.9v0.9h-0.9zM304.5 529.3h1.0v1.0h-1.0zM373.2 529.0h1.7v1.7h-1.7zM507.2 548.2h1.4v1.4h-1.4zM548.9 535.4h2.0v2.0h-2.0zM460.5 531.6h1.7v1.7h-1.7zM378.3 542.9h1.2v1.2h-1.2zM374.2 520.0h0.9v0.9h-0.9zM352.8 529.1h1.7v1.7h-1.7zM579.1 517.6h1.0v1.0h-1.0zM451.6 521.6h2.0v2.0h-2.0zM444.1 526.8h2.0v2.0h-2.0zM340.3 533.7h0.9v0.9h-0.9zM355.1 544.9h2.0v2.0h-2.0zM585.9 532.1h2.0v2.0h-2.0zM331.3 550.3h2.0v2.0h-2.0zM366.9 536.6h2.0v2.0h-2.0zM454.6 576.3h1.0v1.0h-1.0zM258.2 526.2h1.4v1.4h-1.4zM449.2 552.0h1.7v1.7h-1.7zM463.3 524.8h1.2v1.2h-1.2zM333.2 518.9h1.0v1.0h-1.0zM456.5 558.5h1.2v1.2h-1.2zM376.5 516.6h1.7v1.7h-1.7zM315.2 517.4h1.2v1.2h-1.2zM387.3 553.6h1.0v1.0h-1.0zM362.6 529.0h2.0v2.0h-2.0zM469.4 566.5h1.7v1.7h-1.7zM534.0 531.2h1.2v1.2h-1.2zM493.2 557.9h0.9v0.9h-0.9zM464.1 537.2h1.0v1.0h-1.0zM459.0 539.3h1.7v1.7h-1.7zM461.2 515.7h1.7v1.7h-1.7zM345.4 515.3h1.7v1.7h-1.7zM344.5 535.8h1.0v1.0h-1.0zM329.1 523.1h1.2v1.2h-1.2zM377.8 526.4h1.7v1.7h-1.7zM512.4 532.6h1.7v1.7h-1.7zM500.6 533.4h1.0v1.0h-1.0zM375.5 558.6h2.0v2.0h-2.0zM489.3 530.5h1.0v1.0h-1.0zM520.1 551.7h1.0v1.0h-1.0zM449.9 543.8h0.9v0.9h-0.9zM447.9 519.8h1.0v1.0h-1.0zM344.7 519.2h1.4v1.4h-1.4zM458.6 531.4h1.0v1.0h-1.0zM473.2 545.1h0.9v0.9h-0.9zM348.3 559.0h1.7v1.7h-1.7zM465.4 564.5h2.0v2.0h-2.0zM352.9 544.6h1.7v1.7h-1.7zM314.0 518.5h1.0v1.0h-1.0zM468.5 519.9h1.2v1.2h-1.2zM473.9 533.6h1.2v1.2h-1.2zM507.6 527.8h1.7v1.7h-1.7zM327.6 547.9h1.0v1.0h-1.0zM448.8 535.4h2.0v2.0h-2.0zM373.0 561.4h1.0v1.0h-1.0zM495.0 550.4h2.0v2.0h-2.0zM367.3 533.3h1.0v1.0h-1.0zM352.8 529.8h1.4v1.4h-1.4zM316.9 543.8h2.0v2.0h-2.0zM368.1 543.7h1.2v1.2h-1.2zM508.5 535.3h1.7v1.7h-1.7zM368.7 550.1h1.4v1.4h-1.4zM372.7 541.2h1.7v1.7h-1.7zM350.0 522.8h1.0v1.0h-1.0zM462.7 551.4h1.0v1.0h-1.0zM445.8 568.9h0.9v0.9h-0.9zM456.1 520.0h1.2v1.2h-1.2zM369.0 518.1h1.7v1.7h-1.7zM372.2 541.4h1.2v1.2h-1.2zM237.4 521.4h0.9v0.9h-0.9zM453.3 516.4h1.4v1.4h-1.4zM459.4 545.7h2.0v2.0h-2.0zM396.0 526.2h1.7v1.7h-1.7zM466.1 543.1h1.4v1.4h-1.4zM449.9 569.5h1.7v1.7h-1.7zM383.5 518.1h2.0v2.0h-2.0zM460.4 559.1h1.2v1.2h-1.2zM394.5 516.4h1.0v1.0h-1.0zM445.0 591.0h1.4v1.4h-1.4z"/>
<path fill="#f0dc9c" d="M327.4 520.3h1.2v1.2h-1.2zM316.5 525.3h1.4v1.4h-1.4zM447.1 604.6h2.0v2.0h-2.0zM342.4 570.6h1.0v1.0h-1.0zM443.1 553.5h1.0v1.0h-1.0zM342.3 563.1h0.9v0.9h-0.9zM358.4 524.7h1.7v1.7h-1.7zM386.7 520.4h1.7v1.7h-1.7zM495.1 533.8h2.0v2.0h-2.0zM281.8 515.3h1.7v1.7h-1.7zM364.4 558.1h1.2v1.2h-1.2zM351.0 521.1h1.7v1.7h-1.7zM498.7 557.8h0.9v0.9h-0.9zM384.2 537.3h1.7v1.7h-1.7zM357.1 515.8h2.0v2.0h-2.0zM304.4 519.0h1.0v1.0h-1.0zM373.3 564.8h0.9v0.9h-0.9zM393.2 613.8h2.0v2.0h-2.0zM504.2 530.9h1.4v1.4h-1.4zM352.6 543.2h1.4v1.4h-1.4zM292.9 536.3h1.0v1.0h-1.0zM334.5 551.3h1.2v1.2h-1.2zM489.6 554.7h1.2v1.2h-1.2zM380.7 522.4h1.0v1.0h-1.0zM212.1 516.5h2.0v2.0h-2.0zM464.1 529.8h1.0v1.0h-1.0zM466.5 536.0h1.4v1.4h-1.4zM334.3 515.7h0.9v0.9h-0.9zM352.2 526.0h1.4v1.4h-1.4zM461.5 516.1h1.0v1.0h-1.0zM487.2 531.7h0.9v0.9h-0.9zM347.2 528.0h2.0v2.0h-2.0zM348.6 533.3h0.9v0.9h-0.9zM487.8 581.1h0.9v0.9h-0.9zM231.7 518.8h1.0v1.0h-1.0zM302.2 532.4h2.0v2.0h-2.0zM386.4 560.0h1.2v1.2h-1.2zM505.3 564.3h1.4v1.4h-1.4zM458.5 544.6h1.0v1.0h-1.0zM329.5 522.0h0.9v0.9h-0.9zM489.2 517.6h0.9v0.9h-0.9zM362.9 518.5h1.0v1.0h-1.0zM453.3 607.1h1.7v1.7h-1.7zM391.4 529.0h0.9v0.9h-0.9zM377.4 594.3h1.2v1.2h-1.2zM445.4 527.1h2.0v2.0h-2.0zM440.3 577.1h1.2v1.2h-1.2zM636.0 519.3h2.0v2.0h-2.0zM359.9 532.9h1.2v1.2h-1.2zM481.8 544.0h2.0v2.0h-2.0zM451.1 522.8h1.0v1.0h-1.0zM328.8 530.1h1.2v1.2h-1.2zM447.6 523.4h0.9v0.9h-0.9zM384.0 609.0h1.4v1.4h-1.4zM471.2 526.8h1.0v1.0h-1.0zM328.7 517.9h1.4v1.4h-1.4zM445.2 566.3h1.4v1.4h-1.4zM323.5 517.2h2.0v2.0h-2.0zM516.8 537.2h2.0v2.0h-2.0zM462.6 574.9h1.7v1.7h-1.7zM325.2 548.7h2.0v2.0h-2.0zM329.9 553.9h1.0v1.0h-1.0zM498.8 548.4h1.4v1.4h-1.4zM385.8 544.4h1.0v1.0h-1.0zM492.6 519.7h1.7v1.7h-1.7zM356.4 536.0h2.0v2.0h-2.0zM374.3 516.1h0.9v0.9h-0.9zM324.9 532.0h1.7v1.7h-1.7zM390.5 533.2h2.0v2.0h-2.0zM348.1 536.0h1.7v1.7h-1.7zM510.2 535.6h1.4v1.4h-1.4zM375.4 554.8h1.4v1.4h-1.4zM341.0 571.7h1.2v1.2h-1.2zM340.9 539.5h1.0v1.0h-1.0zM454.3 536.6h1.4v1.4h-1.4zM447.9 529.9h1.0v1.0h-1.0zM468.3 535.8h1.0v1.0h-1.0zM461.9 522.3h1.7v1.7h-1.7zM470.0 569.2h1.2v1.2h-1.2zM366.5 529.5h1.4v1.4h-1.4zM365.8 530.3h0.9v0.9h-0.9zM457.0 549.2h2.0v2.0h-2.0zM468.9 526.8h1.4v1.4h-1.4zM358.8 529.8h1.4v1.4h-1.4zM370.2 519.1h0.9v0.9h-0.9zM456.0 528.3h1.7v1.7h-1.7zM492.8 519.9h1.4v1.4h-1.4zM643.9 516.9h0.9v0.9h-0.9zM382.3 545.7h1.0v1.0h-1.0zM286.5 530.6h1.7v1.7h-1.7zM384.6 519.6h1.0v1.0h-1.0zM323.3 526.6h0.9v0.9h-0.9zM386.1 542.7h1.2v1.2h-1.2zM487.9 552.8h1.2v1.2h-1.2zM613.8 524.4h1.2v1.2h-1.2zM330.2 539.9h1.0v1.0h-1.0zM381.2 516.0h1.7v1.7h-1.7zM226.3 516.4h1.0v1.0h-1.0zM358.2 563.8h1.2v1.2h-1.2zM383.6 557.6h1.2v1.2h-1.2zM488.9 531.0h0.9v0.9h-0.9zM507.7 527.5h0.9v0.9h-0.9zM487.6 520.8h1.2v1.2h-1.2zM468.9 533.5h0.9v0.9h-0.9zM470.2 547.4h1.7v1.7h-1.7zM464.9 577.6h1.0v1.0h-1.0zM314.3 518.4h2.0v2.0h-2.0zM210.1 516.1h0.9v0.9h-0.9zM354.7 540.9h1.0v1.0h-1.0zM395.0 563.7h1.0v1.0h-1.0zM331.6 516.2h1.2v1.2h-1.2zM494.1 529.7h0.9v0.9h-0.9zM470.8 548.5h1.0v1.0h-1.0zM391.2 526.4h1.4v1.4h-1.4zM388.4 530.5h1.2v1.2h-1.2zM227.5 518.1h1.0v1.0h-1.0zM522.5 540.7h1.0v1.0h-1.0zM465.5 558.5h2.0v2.0h-2.0zM376.1 568.8h1.2v1.2h-1.2zM455.7 582.3h1.4v1.4h-1.4zM607.4 515.3h0.9v0.9h-0.9zM392.2 519.9h1.4v1.4h-1.4zM501.4 540.5h1.0v1.0h-1.0zM364.0 595.6h1.2v1.2h-1.2zM346.1 548.0h1.7v1.7h-1.7zM470.1 564.0h1.0v1.0h-1.0zM315.5 521.8h1.0v1.0h-1.0zM471.1 536.8h1.2v1.2h-1.2zM393.1 523.7h2.0v2.0h-2.0zM378.7 534.7h1.4v1.4h-1.4zM344.0 514.5h1.4v1.4h-1.4zM355.1 583.8h0.9v0.9h-0.9zM358.1 561.9h0.9v0.9h-0.9zM479.5 518.8h1.0v1.0h-1.0zM445.0 515.6h1.4v1.4h-1.4zM525.0 521.3h1.0v1.0h-1.0zM459.6 596.4h0.9v0.9h-0.9zM361.5 523.0h1.7v1.7h-1.7zM366.6 516.8h1.7v1.7h-1.7zM502.9 569.3h1.0v1.0h-1.0zM372.7 558.6h2.0v2.0h-2.0zM446.8 519.9h1.0v1.0h-1.0zM322.6 533.2h1.7v1.7h-1.7zM503.4 549.6h1.0v1.0h-1.0zM520.8 514.8h1.4v1.4h-1.4zM375.4 530.4h1.2v1.2h-1.2zM456.2 540.6h1.4v1.4h-1.4zM385.1 530.2h1.0v1.0h-1.0zM335.7 523.2h1.4v1.4h-1.4zM393.0 550.7h1.7v1.7h-1.7zM448.6 531.9h2.0v2.0h-2.0zM458.8 564.9h1.2v1.2h-1.2zM395.6 538.5h1.7v1.7h-1.7zM352.4 558.4h1.0v1.0h-1.0zM443.2 535.5h1.4v1.4h-1.4zM341.0 538.9h1.4v1.4h-1.4zM382.0 551.4h1.0v1.0h-1.0zM366.6 551.2h1.0v1.0h-1.0zM444.3 527.9h1.7v1.7h-1.7zM457.5 531.1h1.0v1.0h-1.0zM387.8 546.8h2.0v2.0h-2.0zM381.6 557.8h2.0v2.0h-2.0zM383.6 539.2h2.0v2.0h-2.0zM322.7 546.7h1.0v1.0h-1.0zM618.2 526.2h0.9v0.9h-0.9zM498.2 520.9h2.0v2.0h-2.0zM471.8 546.9h1.0v1.0h-1.0zM450.5 524.0h0.9v0.9h-0.9zM487.4 571.5h1.4v1.4h-1.4zM465.4 541.2h0.9v0.9h-0.9zM494.7 542.2h0.9v0.9h-0.9zM479.3 524.5h1.4v1.4h-1.4zM341.8 523.3h1.2v1.2h-1.2zM377.4 576.3h2.0v2.0h-2.0zM367.8 564.9h1.0v1.0h-1.0zM361.6 561.7h1.0v1.0h-1.0zM485.4 546.4h1.0v1.0h-1.0zM367.1 554.1h1.0v1.0h-1.0zM395.0 521.4h2.0v2.0h-2.0zM372.7 530.9h1.2v1.2h-1.2zM383.8 602.1h1.0v1.0h-1.0zM510.6 547.4h1.0v1.0h-1.0zM499.4 518.5h1.2v1.2h-1.2zM317.7 535.4h2.0v2.0h-2.0zM354.4 516.3h1.2v1.2h-1.2zM457.6 527.0h1.7v1.7h-1.7zM394.6 545.9h1.4v1.4h-1.4zM461.5 560.5h1.0v1.0h-1.0zM476.8 585.2h1.0v1.0h-1.0zM448.9 543.6h1.0v1.0h-1.0zM458.7 570.0h1.2v1.2h-1.2zM376.3 559.2h1.7v1.7h-1.7zM361.9 529.1h1.0v1.0h-1.0zM445.6 517.2h1.0v1.0h-1.0zM446.8 524.8h1.0v1.0h-1.0zM465.4 533.8h1.0v1.0h-1.0zM446.4 530.5h2.0v2.0h-2.0zM446.7 528.8h0.9v0.9h-0.9zM517.5 536.3h1.4v1.4h-1.4zM377.1 521.2h0.9v0.9h-0.9zM473.5 532.4h1.4v1.4h-1.4zM378.2 550.6h1.2v1.2h-1.2zM366.1 514.5h1.7v1.7h-1.7zM446.5 524.7h2.0v2.0h-2.0zM446.4 553.0h2.0v2.0h-2.0zM483.3 543.6h1.0v1.0h-1.0zM473.8 564.7h1.0v1.0h-1.0zM475.4 542.9h1.4v1.4h-1.4zM499.1 549.2h1.4v1.4h-1.4zM366.2 534.9h1.2v1.2h-1.2zM471.3 550.6h1.2v1.2h-1.2zM500.1 532.4h1.2v1.2h-1.2zM447.1 532.9h1.0v1.0h-1.0zM384.2 587.9h1.2v1.2h-1.2zM485.0 541.9h1.0v1.0h-1.0zM448.8 557.7h2.0v2.0h-2.0zM557.7 545.4h1.0v1.0h-1.0zM395.9 560.5h1.2v1.2h-1.2zM440.6 527.0h0.9v0.9h-0.9zM376.8 544.7h2.0v2.0h-2.0zM354.6 529.4h0.9v0.9h-0.9zM493.9 537.3h1.0v1.0h-1.0zM527.5 518.6h1.2v1.2h-1.2zM580.2 520.9h1.7v1.7h-1.7z"/>
<path fill="#dfd088" d="M238.2 527.5h1.7v1.7h-1.7zM238.9 516.7h1.0v1.0h-1.0zM524.2 528.7h1.0v1.0h-1.0zM596.7 529.4h0.9v0.9h-0.9zM647.2 515.9h2.0v2.0h-2.0zM606.3 526.2h1.7v1.7h-1.7zM274.3 539.3h1.0v1.0h-1.0zM216.9 514.7h1.4v1.4h-1.4zM609.5 522.8h1.0v1.0h-1.0zM536.9 516.9h2.0v2.0h-2.0zM525.9 537.2h0.9v0.9h-0.9zM542.8 540.8h0.9v0.9h-0.9zM617.4 520.0h1.0v1.0h-1.0zM530.0 547.7h1.2v1.2h-1.2zM299.2 554.3h1.0v1.0h-1.0zM223.6 517.6h1.0v1.0h-1.0zM643.5 517.9h1.0v1.0h-1.0zM567.0 525.2h0.9v0.9h-0.9zM544.4 516.9h1.0v1.0h-1.0zM269.4 517.8h0.9v0.9h-0.9zM224.7 523.0h1.7v1.7h-1.7zM265.4 523.3h1.0v1.0h-1.0zM533.6 518.3h1.4v1.4h-1.4zM309.8 533.8h1.0v1.0h-1.0zM299.3 532.6h1.2v1.2h-1.2zM282.0 527.8h1.4v1.4h-1.4zM302.8 537.4h2.0v2.0h-2.0zM595.6 516.2h1.2v1.2h-1.2zM646.7 515.9h1.2v1.2h-1.2zM229.2 522.7h0.9v0.9h-0.9zM273.0 518.2h1.7v1.7h-1.7zM271.9 522.1h1.7v1.7h-1.7zM559.1 558.0h1.7v1.7h-1.7zM600.6 517.4h1.7v1.7h-1.7zM529.1 536.4h2.0v2.0h-2.0zM569.6 545.5h0.9v0.9h-0.9zM554.9 519.9h0.9v0.9h-0.9zM567.1 531.6h0.9v0.9h-0.9zM289.1 516.5h1.0v1.0h-1.0zM253.5 525.3h1.2v1.2h-1.2zM268.4 533.6h1.7v1.7h-1.7zM257.9 516.0h0.9v0.9h-0.9zM272.5 526.4h1.0v1.0h-1.0zM560.2 530.9h1.4v1.4h-1.4zM209.7 514.7h1.2v1.2h-1.2zM586.9 521.9h1.2v1.2h-1.2zM283.1 523.3h1.0v1.0h-1.0zM595.5 519.1h1.4v1.4h-1.4zM621.1 525.9h1.0v1.0h-1.0zM629.2 515.4h2.0v2.0h-2.0zM579.2 524.2h0.9v0.9h-0.9zM289.4 526.2h1.2v1.2h-1.2zM541.6 519.5h1.7v1.7h-1.7zM524.0 529.6h1.7v1.7h-1.7zM543.3 531.9h1.7v1.7h-1.7zM282.4 525.3h1.0v1.0h-1.0zM529.2 524.2h2.0v2.0h-2.0zM224.2 516.3h1.0v1.0h-1.0zM300.6 522.2h1.4v1.4h-1.4zM623.3 520.4h1.0v1.0h-1.0zM303.7 533.9h1.0v1.0h-1.0zM230.6 518.5h1.0v1.0h-1.0zM613.5 531.9h1.4v1.4h-1.4zM282.1 535.7h0.9v0.9h-0.9zM307.7 516.8h1.2v1.2h-1.2zM607.0 519.7h1.4v1.4h-1.4zM644.6 516.5h1.0v1.0h-1.0zM542.3 538.5h1.2v1.2h-1.2zM254.6 517.1h1.2v1.2h-1.2zM292.1 519.8h1.0v1.0h-1.0zM602.3 520.3h1.0v1.0h-1.0zM558.2 525.3h1.4v1.4h-1.4zM301.3 517.4h1.0v1.0h-1.0zM230.9 518.2h1.4v1.4h-1.4zM627.4 516.9h1.4v1.4h-1.4zM541.6 525.0h1.4v1.4h-1.4zM581.5 516.7h1.0v1.0h-1.0zM537.7 517.2h0.9v0.9h-0.9zM289.7 525.2h1.7v1.7h-1.7z"/>
<path fill="#ead9a0" d="M213.5 515.8h2.0v2.0h-2.0zM542.9 522.2h1.0v1.0h-1.0zM555.1 515.7h1.2v1.2h-1.2zM307.8 528.1h0.9v0.9h-0.9zM304.5 517.9h1.4v1.4h-1.4zM582.1 520.8h1.7v1.7h-1.7zM266.4 516.7h2.0v2.0h-2.0zM304.6 525.8h1.0v1.0h-1.0zM270.1 531.7h1.2v1.2h-1.2zM553.6 518.2h1.4v1.4h-1.4zM271.7 516.8h1.7v1.7h-1.7zM524.4 535.5h1.7v1.7h-1.7zM621.3 522.2h1.0v1.0h-1.0zM646.3 517.6h1.2v1.2h-1.2zM569.7 520.3h0.9v0.9h-0.9zM295.7 524.0h1.0v1.0h-1.0zM276.6 521.6h1.4v1.4h-1.4zM620.9 515.3h1.4v1.4h-1.4zM296.1 528.3h1.7v1.7h-1.7zM296.1 524.1h2.0v2.0h-2.0zM255.6 523.9h1.0v1.0h-1.0zM312.1 537.4h1.0v1.0h-1.0zM231.4 517.4h1.0v1.0h-1.0zM312.8 527.0h0.9v0.9h-0.9zM305.8 527.3h0.9v0.9h-0.9zM288.1 526.7h1.0v1.0h-1.0zM566.9 520.7h1.7v1.7h-1.7zM228.5 518.4h1.2v1.2h-1.2zM529.2 530.4h1.4v1.4h-1.4zM310.5 531.4h1.7v1.7h-1.7zM249.1 515.6h1.7v1.7h-1.7zM221.6 515.7h1.4v1.4h-1.4zM285.8 529.9h1.4v1.4h-1.4zM593.9 517.0h1.0v1.0h-1.0zM628.7 518.2h1.0v1.0h-1.0zM250.3 519.8h1.7v1.7h-1.7zM604.7 528.3h1.4v1.4h-1.4zM243.6 524.3h1.7v1.7h-1.7zM551.9 531.6h1.2v1.2h-1.2zM242.0 524.6h1.0v1.0h-1.0zM593.3 514.7h1.7v1.7h-1.7zM234.2 521.5h1.0v1.0h-1.0zM305.1 519.1h0.9v0.9h-0.9zM544.9 533.6h1.7v1.7h-1.7zM634.3 515.4h0.9v0.9h-0.9zM219.1 515.0h1.4v1.4h-1.4zM298.7 515.8h0.9v0.9h-0.9zM629.0 515.7h1.0v1.0h-1.0zM257.2 521.5h1.2v1.2h-1.2zM225.5 519.5h1.0v1.0h-1.0zM304.5 530.9h1.0v1.0h-1.0zM552.9 541.6h1.4v1.4h-1.4zM550.6 516.6h2.0v2.0h-2.0zM293.4 520.5h1.4v1.4h-1.4zM607.0 516.2h1.4v1.4h-1.4zM211.2 516.6h1.2v1.2h-1.2zM648.8 514.7h2.0v2.0h-2.0zM298.0 528.6h1.7v1.7h-1.7zM639.8 518.6h1.0v1.0h-1.0zM542.4 525.6h1.0v1.0h-1.0zM304.2 537.9h1.4v1.4h-1.4zM312.5 553.1h0.9v0.9h-0.9zM232.1 517.3h1.0v1.0h-1.0zM588.3 518.5h0.9v0.9h-0.9zM571.7 529.7h1.0v1.0h-1.0zM289.1 518.6h0.9v0.9h-0.9zM579.9 523.8h1.0v1.0h-1.0zM232.4 519.4h2.0v2.0h-2.0zM525.4 537.7h1.0v1.0h-1.0zM278.0 527.2h1.0v1.0h-1.0zM615.6 524.8h1.2v1.2h-1.2zM235.5 522.4h1.4v1.4h-1.4zM290.5 549.7h1.0v1.0h-1.0zM565.4 533.0h1.0v1.0h-1.0zM572.9 536.2h1.0v1.0h-1.0z"/>
<path fill="#eed088" d="M443.0 575.7h1.0v1.0h-1.0zM289.4 536.8h1.0v1.0h-1.0zM471.8 550.7h1.0v1.0h-1.0zM344.0 544.4h1.0v1.0h-1.0zM482.4 523.9h1.4v1.4h-1.4zM368.0 550.6h1.7v1.7h-1.7zM446.8 553.0h1.0v1.0h-1.0zM372.6 519.2h1.0v1.0h-1.0zM383.1 573.5h2.0v2.0h-2.0zM457.5 544.6h1.0v1.0h-1.0zM448.9 530.6h1.0v1.0h-1.0zM342.3 560.5h1.0v1.0h-1.0zM490.4 520.7h1.7v1.7h-1.7zM281.2 530.1h1.2v1.2h-1.2zM367.8 515.1h2.0v2.0h-2.0zM386.7 547.1h1.7v1.7h-1.7zM388.8 602.3h0.9v0.9h-0.9zM378.4 517.5h1.0v1.0h-1.0zM305.3 514.5h1.0v1.0h-1.0zM460.9 539.0h0.9v0.9h-0.9zM315.9 540.6h1.0v1.0h-1.0zM359.6 538.5h0.9v0.9h-0.9zM356.2 546.8h1.2v1.2h-1.2zM350.5 558.0h1.2v1.2h-1.2zM453.0 521.2h0.9v0.9h-0.9zM371.7 544.1h1.0v1.0h-1.0zM388.9 550.3h1.4v1.4h-1.4zM440.4 582.1h1.0v1.0h-1.0zM321.8 537.3h2.0v2.0h-2.0zM356.0 515.8h1.0v1.0h-1.0zM312.2 530.1h1.4v1.4h-1.4zM364.9 534.5h0.9v0.9h-0.9zM362.0 525.5h1.0v1.0h-1.0zM356.5 516.0h1.2v1.2h-1.2zM383.8 539.5h1.2v1.2h-1.2zM455.5 552.1h1.7v1.7h-1.7zM394.0 517.3h1.4v1.4h-1.4zM363.6 554.9h1.2v1.2h-1.2zM494.9 558.5h2.0v2.0h-2.0zM390.9 554.6h0.9v0.9h-0.9zM361.6 521.8h1.0v1.0h-1.0zM481.9 536.0h1.2v1.2h-1.2zM374.4 515.6h1.0v1.0h-1.0zM371.6 538.1h1.0v1.0h-1.0zM470.4 558.0h1.2v1.2h-1.2zM488.5 532.0h1.4v1.4h-1.4zM451.1 517.3h0.9v0.9h-0.9zM463.6 540.2h1.0v1.0h-1.0zM449.7 539.1h1.4v1.4h-1.4zM483.3 577.6h0.9v0.9h-0.9zM636.1 516.4h1.0v1.0h-1.0zM493.2 539.6h2.0v2.0h-2.0zM377.3 525.1h1.4v1.4h-1.4zM390.8 565.7h1.4v1.4h-1.4zM328.6 520.1h1.2v1.2h-1.2zM468.8 568.8h2.0v2.0h-2.0zM262.9 522.1h1.7v1.7h-1.7zM313.7 525.0h1.4v1.4h-1.4zM474.0 537.6h1.4v1.4h-1.4zM306.8 537.8h1.7v1.7h-1.7zM394.0 526.7h1.2v1.2h-1.2zM233.4 515.9h1.0v1.0h-1.0zM386.5 515.0h1.4v1.4h-1.4zM468.8 568.9h1.4v1.4h-1.4zM510.2 533.4h1.0v1.0h-1.0zM446.4 541.2h1.0v1.0h-1.0zM452.9 536.8h1.2v1.2h-1.2zM475.3 531.0h1.7v1.7h-1.7zM331.3 515.3h1.2v1.2h-1.2zM393.4 515.9h1.2v1.2h-1.2zM386.2 539.5h0.9v0.9h-0.9zM550.1 516.2h1.7v1.7h-1.7zM346.1 534.6h2.0v2.0h-2.0zM445.8 593.2h0.9v0.9h-0.9zM323.6 524.0h1.0v1.0h-1.0zM371.7 538.6h1.7v1.7h-1.7zM330.2 531.0h2.0v2.0h-2.0zM364.4 529.3h1.4v1.4h-1.4zM379.0 524.4h1.2v1.2h-1.2zM462.6 522.9h1.0v1.0h-1.0zM483.7 575.2h0.9v0.9h-0.9zM378.6 537.8h2.0v2.0h-2.0zM477.5 517.5h0.9v0.9h-0.9zM522.4 531.1h1.0v1.0h-1.0zM538.6 535.3h2.0v2.0h-2.0zM352.2 521.7h1.0v1.0h-1.0zM486.2 528.3h0.9v0.9h-0.9zM369.1 558.8h1.4v1.4h-1.4zM329.3 532.6h0.9v0.9h-0.9zM456.4 518.1h1.7v1.7h-1.7zM345.6 547.6h1.7v1.7h-1.7zM510.4 515.6h1.7v1.7h-1.7zM345.4 542.7h1.7v1.7h-1.7zM497.6 516.8h1.2v1.2h-1.2zM505.0 545.9h1.2v1.2h-1.2zM538.8 517.3h1.7v1.7h-1.7zM379.7 515.7h1.2v1.2h-1.2zM280.8 532.4h1.7v1.7h-1.7zM474.9 522.3h2.0v2.0h-2.0zM367.9 546.7h0.9v0.9h-0.9zM623.7 514.8h1.7v1.7h-1.7zM483.6 526.4h2.0v2.0h-2.0zM459.5 558.4h1.4v1.4h-1.4zM343.8 535.9h1.0v1.0h-1.0zM498.6 533.8h1.0v1.0h-1.0zM310.1 524.1h0.9v0.9h-0.9zM343.4 542.1h1.0v1.0h-1.0zM366.8 520.9h1.0v1.0h-1.0zM317.6 537.4h2.0v2.0h-2.0zM512.4 521.8h1.0v1.0h-1.0zM464.6 558.7h2.0v2.0h-2.0zM382.3 516.6h1.7v1.7h-1.7zM330.4 520.9h1.7v1.7h-1.7zM453.5 529.9h1.2v1.2h-1.2zM382.7 516.5h1.0v1.0h-1.0zM453.4 571.6h2.0v2.0h-2.0zM463.6 522.4h1.2v1.2h-1.2zM211.8 515.3h1.4v1.4h-1.4zM447.5 531.0h2.0v2.0h-2.0zM383.3 523.1h1.4v1.4h-1.4zM465.9 520.4h1.0v1.0h-1.0zM372.9 537.7h1.0v1.0h-1.0zM374.6 572.3h1.2v1.2h-1.2zM346.3 531.8h1.7v1.7h-1.7zM618.4 528.2h1.4v1.4h-1.4zM465.6 537.6h0.9v0.9h-0.9zM485.0 539.6h0.9v0.9h-0.9zM352.8 535.2h1.7v1.7h-1.7zM372.7 557.0h0.9v0.9h-0.9zM369.9 557.1h1.0v1.0h-1.0zM383.7 578.8h0.9v0.9h-0.9zM358.7 551.1h1.2v1.2h-1.2zM361.4 524.1h0.9v0.9h-0.9zM451.3 601.3h1.0v1.0h-1.0zM485.3 544.6h1.2v1.2h-1.2zM387.4 518.7h1.0v1.0h-1.0zM468.5 527.5h0.9v0.9h-0.9zM352.2 544.9h2.0v2.0h-2.0zM332.0 529.2h1.0v1.0h-1.0zM459.0 580.1h0.9v0.9h-0.9zM376.7 555.8h1.0v1.0h-1.0zM443.4 533.1h1.0v1.0h-1.0zM313.5 520.2h0.9v0.9h-0.9zM477.8 553.5h0.9v0.9h-0.9zM304.8 547.8h1.4v1.4h-1.4zM644.8 518.5h1.0v1.0h-1.0zM539.2 541.0h2.0v2.0h-2.0zM358.2 532.2h0.9v0.9h-0.9zM510.4 517.8h1.4v1.4h-1.4zM457.7 531.3h1.2v1.2h-1.2zM285.0 538.3h1.0v1.0h-1.0zM345.7 548.5h1.0v1.0h-1.0zM502.8 577.5h1.0v1.0h-1.0zM338.0 544.1h1.0v1.0h-1.0zM229.5 517.2h0.9v0.9h-0.9zM468.6 562.5h1.0v1.0h-1.0zM616.7 525.3h1.2v1.2h-1.2zM467.2 522.7h1.0v1.0h-1.0zM381.0 557.6h1.0v1.0h-1.0zM488.7 515.5h1.0v1.0h-1.0zM366.7 532.6h1.0v1.0h-1.0zM393.9 576.4h1.0v1.0h-1.0zM381.9 529.7h1.0v1.0h-1.0zM382.8 526.6h1.0v1.0h-1.0zM474.1 518.6h1.4v1.4h-1.4zM269.4 527.1h1.4v1.4h-1.4zM444.4 536.7h1.4v1.4h-1.4zM391.8 540.2h0.9v0.9h-0.9zM364.0 515.1h0.9v0.9h-0.9zM484.4 578.0h1.0v1.0h-1.0zM521.4 528.6h1.0v1.0h-1.0zM463.8 532.9h1.7v1.7h-1.7zM336.2 539.1h1.2v1.2h-1.2zM370.8 566.7h0.9v0.9h-0.9zM574.7 525.1h1.7v1.7h-1.7zM351.3 536.7h1.7v1.7h-1.7zM346.3 566.0h1.0v1.0h-1.0zM448.6 541.4h2.0v2.0h-2.0zM372.8 535.7h1.4v1.4h-1.4zM563.0 527.0h1.4v1.4h-1.4zM306.5 520.1h0.9v0.9h-0.9zM462.9 532.0h1.7v1.7h-1.7zM376.3 521.6h0.9v0.9h-0.9zM355.4 521.9h1.4v1.4h-1.4zM394.7 534.9h1.7v1.7h-1.7zM471.5 534.4h1.0v1.0h-1.0zM390.7 542.1h1.4v1.4h-1.4zM344.8 520.3h0.9v0.9h-0.9zM488.3 554.7h1.7v1.7h-1.7zM317.5 546.5h0.9v0.9h-0.9zM649.9 517.1h1.2v1.2h-1.2zM223.3 520.0h1.0v1.0h-1.0zM353.2 532.6h1.0v1.0h-1.0zM382.6 556.1h1.0v1.0h-1.0zM503.0 514.5h2.0v2.0h-2.0zM381.5 533.2h1.4v1.4h-1.4zM364.6 537.8h0.9v0.9h-0.9zM395.2 519.3h0.9v0.9h-0.9zM452.1 532.5h1.7v1.7h-1.7zM448.0 529.8h1.0v1.0h-1.0zM604.9 517.1h0.9v0.9h-0.9zM445.7 565.4h1.2v1.2h-1.2zM495.2 535.0h1.4v1.4h-1.4zM448.3 526.0h1.7v1.7h-1.7zM531.5 532.7h2.0v2.0h-2.0zM622.1 516.5h1.0v1.0h-1.0zM356.7 544.0h1.2v1.2h-1.2zM327.8 560.8h0.9v0.9h-0.9zM344.3 559.8h1.0v1.0h-1.0zM390.0 529.5h0.9v0.9h-0.9zM394.8 521.6h1.4v1.4h-1.4zM364.2 575.5h1.4v1.4h-1.4zM329.1 546.3h1.0v1.0h-1.0zM374.8 518.7h2.0v2.0h-2.0zM369.2 539.7h0.9v0.9h-0.9zM384.9 545.3h1.0v1.0h-1.0zM505.2 528.1h1.2v1.2h-1.2zM446.9 524.2h2.0v2.0h-2.0zM326.0 566.0h1.4v1.4h-1.4zM323.5 523.6h0.9v0.9h-0.9z"/>
<path fill="#d8a844" d="M440.7 546.5h1.0v1.0h-1.0zM534.0 526.7h1.4v1.4h-1.4zM465.7 538.3h0.9v0.9h-0.9zM485.8 538.6h1.2v1.2h-1.2zM330.9 549.0h1.0v1.0h-1.0zM387.7 568.2h1.7v1.7h-1.7zM390.8 523.2h0.9v0.9h-0.9zM448.0 591.8h1.7v1.7h-1.7zM324.7 519.5h1.0v1.0h-1.0zM455.9 533.6h1.0v1.0h-1.0zM343.9 516.3h1.7v1.7h-1.7zM448.1 540.6h1.0v1.0h-1.0zM440.1 545.1h0.9v0.9h-0.9zM371.6 554.0h1.7v1.7h-1.7zM467.3 530.5h2.0v2.0h-2.0zM449.5 554.1h0.9v0.9h-0.9zM381.0 575.6h1.0v1.0h-1.0zM391.5 526.3h1.0v1.0h-1.0zM333.9 522.7h2.0v2.0h-2.0zM584.5 521.0h1.7v1.7h-1.7zM475.7 576.4h1.7v1.7h-1.7zM369.7 547.7h1.7v1.7h-1.7zM503.2 519.2h1.0v1.0h-1.0zM366.7 561.4h2.0v2.0h-2.0zM356.1 533.3h1.0v1.0h-1.0zM547.0 534.6h1.7v1.7h-1.7zM389.0 551.3h1.0v1.0h-1.0zM476.9 529.2h1.7v1.7h-1.7zM363.3 531.5h1.7v1.7h-1.7zM343.6 520.9h1.0v1.0h-1.0zM380.3 569.5h1.4v1.4h-1.4zM473.9 537.4h1.2v1.2h-1.2zM445.8 578.4h1.0v1.0h-1.0zM451.6 527.5h1.0v1.0h-1.0zM530.2 518.6h1.2v1.2h-1.2zM382.9 519.1h1.7v1.7h-1.7zM452.8 608.1h1.4v1.4h-1.4zM462.4 575.4h1.7v1.7h-1.7zM367.6 558.4h1.0v1.0h-1.0zM450.5 543.5h1.0v1.0h-1.0zM460.8 535.4h2.0v2.0h-2.0zM355.9 541.6h1.4v1.4h-1.4zM339.9 537.7h0.9v0.9h-0.9zM442.8 518.9h1.0v1.0h-1.0zM490.1 537.3h0.9v0.9h-0.9zM515.6 517.9h1.0v1.0h-1.0zM383.9 551.9h2.0v2.0h-2.0zM382.6 549.7h2.0v2.0h-2.0zM379.2 519.4h0.9v0.9h-0.9zM483.4 517.0h1.2v1.2h-1.2zM275.6 534.6h1.4v1.4h-1.4zM331.6 518.0h1.2v1.2h-1.2zM250.8 531.9h1.0v1.0h-1.0zM450.7 541.4h0.9v0.9h-0.9zM392.4 541.9h1.7v1.7h-1.7zM450.8 545.0h1.2v1.2h-1.2zM484.2 518.6h2.0v2.0h-2.0zM547.9 538.3h1.0v1.0h-1.0zM352.5 523.4h1.0v1.0h-1.0zM459.8 545.8h1.0v1.0h-1.0zM478.0 566.9h1.7v1.7h-1.7zM472.2 518.4h1.4v1.4h-1.4zM447.2 585.7h0.9v0.9h-0.9zM554.4 532.9h1.4v1.4h-1.4zM327.6 524.5h1.7v1.7h-1.7zM336.6 526.0h1.0v1.0h-1.0zM340.9 585.4h1.4v1.4h-1.4zM486.5 548.1h2.0v2.0h-2.0zM380.6 533.1h1.2v1.2h-1.2zM359.4 548.8h0.9v0.9h-0.9zM488.8 521.1h2.0v2.0h-2.0zM454.1 558.6h1.0v1.0h-1.0zM502.0 520.7h1.4v1.4h-1.4zM318.8 516.0h2.0v2.0h-2.0zM389.1 544.6h0.9v0.9h-0.9zM356.7 533.5h1.4v1.4h-1.4zM463.0 536.3h1.4v1.4h-1.4zM465.1 534.7h1.7v1.7h-1.7zM544.0 517.5h1.2v1.2h-1.2zM342.8 524.3h1.0v1.0h-1.0zM381.3 576.4h1.0v1.0h-1.0zM470.5 562.9h1.0v1.0h-1.0zM379.8 531.6h1.0v1.0h-1.0zM445.8 536.3h1.4v1.4h-1.4zM357.2 515.3h1.4v1.4h-1.4zM359.5 541.7h2.0v2.0h-2.0zM476.0 519.3h0.9v0.9h-0.9zM442.1 521.7h0.9v0.9h-0.9zM333.9 557.6h1.2v1.2h-1.2zM489.3 527.6h1.4v1.4h-1.4zM344.0 532.0h2.0v2.0h-2.0zM479.7 573.0h2.0v2.0h-2.0zM318.2 523.8h1.2v1.2h-1.2zM452.4 567.2h1.0v1.0h-1.0zM495.8 546.9h1.0v1.0h-1.0zM463.0 540.0h1.0v1.0h-1.0zM345.7 563.8h1.7v1.7h-1.7zM469.7 540.9h1.4v1.4h-1.4zM444.9 531.7h1.2v1.2h-1.2zM387.5 528.8h1.4v1.4h-1.4zM248.6 518.3h1.0v1.0h-1.0zM458.9 555.9h1.2v1.2h-1.2zM333.5 551.3h1.0v1.0h-1.0zM443.4 558.7h0.9v0.9h-0.9zM469.1 524.5h1.0v1.0h-1.0zM441.7 531.5h1.4v1.4h-1.4zM357.5 558.2h1.7v1.7h-1.7zM454.6 533.6h1.7v1.7h-1.7zM379.0 527.0h1.0v1.0h-1.0zM460.3 598.9h1.0v1.0h-1.0zM451.5 554.2h1.0v1.0h-1.0zM324.5 559.7h1.7v1.7h-1.7zM497.9 534.3h1.4v1.4h-1.4zM449.2 536.9h1.0v1.0h-1.0zM394.5 566.8h1.0v1.0h-1.0zM335.8 551.0h1.4v1.4h-1.4zM319.0 533.5h1.4v1.4h-1.4zM511.4 536.8h2.0v2.0h-2.0zM503.5 557.1h1.0v1.0h-1.0zM352.4 551.7h2.0v2.0h-2.0zM391.4 570.3h1.7v1.7h-1.7zM388.4 539.4h1.7v1.7h-1.7zM461.9 538.2h1.0v1.0h-1.0zM387.2 590.5h1.4v1.4h-1.4zM373.4 529.2h1.7v1.7h-1.7zM612.0 527.5h1.4v1.4h-1.4zM462.7 523.0h1.4v1.4h-1.4zM393.9 551.5h0.9v0.9h-0.9zM607.8 520.0h1.2v1.2h-1.2zM455.4 552.9h1.0v1.0h-1.0zM457.9 528.9h2.0v2.0h-2.0zM393.1 564.0h0.9v0.9h-0.9zM346.4 550.3h0.9v0.9h-0.9zM218.3 515.2h1.4v1.4h-1.4zM339.0 520.3h1.2v1.2h-1.2zM449.7 543.8h1.4v1.4h-1.4zM368.1 564.0h1.4v1.4h-1.4zM442.6 536.5h0.9v0.9h-0.9zM322.1 523.8h1.0v1.0h-1.0zM367.2 543.3h1.2v1.2h-1.2zM393.0 549.4h1.0v1.0h-1.0zM334.1 534.9h0.9v0.9h-0.9zM374.3 535.6h1.0v1.0h-1.0zM374.8 547.3h1.2v1.2h-1.2zM317.7 552.5h1.0v1.0h-1.0zM461.1 526.7h1.0v1.0h-1.0zM614.6 525.1h0.9v0.9h-0.9zM478.2 533.0h1.7v1.7h-1.7zM374.7 527.8h1.2v1.2h-1.2zM474.8 562.5h1.4v1.4h-1.4zM382.5 534.1h1.0v1.0h-1.0zM376.2 534.0h0.9v0.9h-0.9zM352.1 525.5h1.0v1.0h-1.0zM444.2 516.8h2.0v2.0h-2.0zM379.6 540.5h0.9v0.9h-0.9zM346.9 515.2h2.0v2.0h-2.0zM322.6 517.4h1.0v1.0h-1.0zM391.8 535.4h0.9v0.9h-0.9zM514.9 516.5h1.7v1.7h-1.7zM390.5 547.6h1.0v1.0h-1.0zM357.6 555.5h1.2v1.2h-1.2zM497.9 578.0h1.7v1.7h-1.7zM364.3 515.6h1.7v1.7h-1.7zM459.0 606.9h1.4v1.4h-1.4zM388.4 555.8h1.0v1.0h-1.0zM391.4 518.3h1.7v1.7h-1.7zM464.9 564.0h0.9v0.9h-0.9zM507.0 538.9h1.4v1.4h-1.4zM491.3 554.4h1.7v1.7h-1.7zM506.7 535.2h2.0v2.0h-2.0zM484.8 533.6h1.7v1.7h-1.7zM354.6 515.8h1.2v1.2h-1.2zM347.7 541.0h1.7v1.7h-1.7zM322.9 551.5h1.4v1.4h-1.4zM360.2 517.7h1.0v1.0h-1.0zM366.6 541.0h1.4v1.4h-1.4zM483.0 533.6h0.9v0.9h-0.9zM472.3 525.0h1.2v1.2h-1.2zM390.8 517.4h0.9v0.9h-0.9zM324.5 523.0h1.4v1.4h-1.4zM476.1 530.4h1.0v1.0h-1.0zM341.2 556.2h2.0v2.0h-2.0zM381.5 553.4h1.4v1.4h-1.4zM638.4 515.2h1.4v1.4h-1.4zM349.4 583.1h2.0v2.0h-2.0zM388.9 537.5h1.0v1.0h-1.0zM389.7 517.3h0.9v0.9h-0.9zM465.6 519.3h1.0v1.0h-1.0zM444.4 607.1h1.0v1.0h-1.0zM384.3 516.9h1.2v1.2h-1.2zM346.5 539.9h0.9v0.9h-0.9zM598.0 522.4h0.9v0.9h-0.9zM330.0 521.9h1.7v1.7h-1.7zM532.9 519.1h1.0v1.0h-1.0zM388.7 564.1h1.0v1.0h-1.0zM321.3 543.1h1.0v1.0h-1.0zM394.9 560.9h2.0v2.0h-2.0zM391.3 525.3h1.2v1.2h-1.2z"/>
<path fill="#e6d68c" d="M556.5 528.5h1.2v1.2h-1.2zM526.6 554.5h1.0v1.0h-1.0zM605.1 516.5h1.7v1.7h-1.7zM548.4 532.6h2.0v2.0h-2.0zM264.0 520.8h1.4v1.4h-1.4zM283.3 524.4h1.0v1.0h-1.0zM286.6 544.0h1.7v1.7h-1.7zM307.5 514.6h1.2v1.2h-1.2zM299.0 524.9h2.0v2.0h-2.0zM303.4 528.7h1.0v1.0h-1.0zM207.5 515.2h2.0v2.0h-2.0zM529.2 528.6h1.0v1.0h-1.0zM286.5 527.1h1.7v1.7h-1.7zM273.5 519.2h1.2v1.2h-1.2zM297.8 547.3h1.0v1.0h-1.0zM564.0 534.1h1.4v1.4h-1.4zM536.1 547.7h1.4v1.4h-1.4zM296.2 521.5h2.0v2.0h-2.0zM610.0 515.2h1.0v1.0h-1.0zM310.0 524.4h1.2v1.2h-1.2zM309.3 519.7h1.0v1.0h-1.0zM310.6 539.0h1.0v1.0h-1.0zM523.8 539.4h1.4v1.4h-1.4zM546.1 522.2h2.0v2.0h-2.0zM561.8 524.2h1.0v1.0h-1.0zM255.2 524.2h1.2v1.2h-1.2zM545.8 537.9h0.9v0.9h-0.9zM524.5 516.5h1.4v1.4h-1.4zM231.8 520.0h0.9v0.9h-0.9zM281.2 527.9h1.7v1.7h-1.7zM284.4 544.1h0.9v0.9h-0.9zM618.0 517.7h0.9v0.9h-0.9zM546.1 520.5h1.7v1.7h-1.7zM222.1 514.9h1.7v1.7h-1.7zM264.5 530.3h1.0v1.0h-1.0zM281.0 522.9h1.4v1.4h-1.4zM242.0 524.4h1.4v1.4h-1.4zM648.4 514.6h0.9v0.9h-0.9zM581.7 526.9h0.9v0.9h-0.9zM267.8 524.3h1.4v1.4h-1.4zM310.5 526.7h1.7v1.7h-1.7zM536.8 518.6h1.0v1.0h-1.0zM272.5 515.9h2.0v2.0h-2.0zM528.1 544.0h1.0v1.0h-1.0zM264.5 517.2h1.2v1.2h-1.2zM527.0 525.2h1.0v1.0h-1.0zM226.5 517.6h1.0v1.0h-1.0zM311.3 517.4h2.0v2.0h-2.0zM581.0 547.0h1.0v1.0h-1.0zM601.3 514.7h1.2v1.2h-1.2zM309.8 532.1h0.9v0.9h-0.9zM554.5 535.4h0.9v0.9h-0.9zM548.1 529.5h1.2v1.2h-1.2zM297.4 553.3h1.0v1.0h-1.0zM543.1 522.3h0.9v0.9h-0.9zM307.8 523.9h1.7v1.7h-1.7zM540.7 529.1h2.0v2.0h-2.0zM564.0 516.6h0.9v0.9h-0.9zM581.3 530.6h1.0v1.0h-1.0zM287.0 519.2h2.0v2.0h-2.0zM275.8 532.6h1.2v1.2h-1.2zM591.1 534.9h0.9v0.9h-0.9zM242.4 525.6h2.0v2.0h-2.0zM311.1 549.5h0.9v0.9h-0.9zM537.2 542.2h1.0v1.0h-1.0zM273.2 526.8h2.0v2.0h-2.0zM579.0 544.6h1.0v1.0h-1.0zM280.5 528.0h0.9v0.9h-0.9zM576.9 524.5h1.2v1.2h-1.2zM293.5 521.1h0.9v0.9h-0.9zM572.3 518.1h1.7v1.7h-1.7zM533.1 564.5h1.0v1.0h-1.0zM244.7 517.3h1.0v1.0h-1.0zM240.4 516.8h2.0v2.0h-2.0zM284.4 526.5h1.7v1.7h-1.7zM591.8 520.1h1.0v1.0h-1.0zM293.7 526.6h1.4v1.4h-1.4zM548.3 524.5h1.0v1.0h-1.0zM529.2 516.8h1.2v1.2h-1.2zM569.7 522.2h1.0v1.0h-1.0zM229.4 522.5h1.4v1.4h-1.4zM230.6 515.7h1.7v1.7h-1.7zM238.1 517.8h1.0v1.0h-1.0zM537.9 516.3h1.4v1.4h-1.4zM273.2 525.7h1.7v1.7h-1.7zM223.4 516.8h2.0v2.0h-2.0zM297.0 533.6h1.0v1.0h-1.0zM558.4 517.2h0.9v0.9h-0.9zM531.6 522.7h0.9v0.9h-0.9zM527.6 524.5h1.2v1.2h-1.2zM576.4 515.4h0.9v0.9h-0.9zM632.3 517.3h1.4v1.4h-1.4zM244.3 515.9h2.0v2.0h-2.0zM306.9 541.4h1.0v1.0h-1.0zM293.3 533.6h1.0v1.0h-1.0z"/>
<path fill="#f2ecd4" d="M284.8 529.1h1.2v1.2h-1.2zM228.6 519.6h1.0v1.0h-1.0zM282.0 515.4h1.0v1.0h-1.0zM234.3 517.1h1.7v1.7h-1.7zM277.2 536.7h0.9v0.9h-0.9zM618.6 520.3h0.9v0.9h-0.9zM253.6 515.4h1.7v1.7h-1.7zM605.8 516.1h1.4v1.4h-1.4zM580.5 522.8h0.9v0.9h-0.9zM597.0 522.0h2.0v2.0h-2.0zM553.9 519.3h0.9v0.9h-0.9zM288.9 534.7h2.0v2.0h-2.0zM525.8 516.6h0.9v0.9h-0.9zM544.0 525.3h1.0v1.0h-1.0zM267.3 519.8h1.0v1.0h-1.0zM533.9 534.9h1.2v1.2h-1.2zM262.6 516.9h2.0v2.0h-2.0zM539.9 524.8h1.0v1.0h-1.0zM559.3 518.8h1.0v1.0h-1.0zM526.6 528.3h1.0v1.0h-1.0zM296.6 519.2h1.7v1.7h-1.7zM208.9 515.1h2.0v2.0h-2.0zM555.4 528.2h1.0v1.0h-1.0zM309.0 514.9h1.2v1.2h-1.2zM250.1 515.3h1.4v1.4h-1.4zM283.9 522.1h1.0v1.0h-1.0zM550.2 517.7h1.2v1.2h-1.2zM294.5 524.1h1.2v1.2h-1.2zM291.4 518.2h1.4v1.4h-1.4zM620.9 523.2h1.4v1.4h-1.4zM537.2 544.8h1.0v1.0h-1.0zM638.2 520.0h1.0v1.0h-1.0zM524.3 530.1h1.7v1.7h-1.7zM299.0 533.9h1.7v1.7h-1.7zM271.4 522.6h0.9v0.9h-0.9zM591.5 520.9h1.0v1.0h-1.0zM264.9 518.8h0.9v0.9h-0.9zM564.9 515.6h1.7v1.7h-1.7zM615.9 514.5h1.4v1.4h-1.4zM289.6 538.2h2.0v2.0h-2.0zM248.3 516.7h0.9v0.9h-0.9zM299.6 546.4h1.4v1.4h-1.4zM562.8 517.0h2.0v2.0h-2.0zM599.8 527.6h0.9v0.9h-0.9zM526.6 533.9h1.0v1.0h-1.0zM542.9 529.0h1.0v1.0h-1.0zM285.7 514.8h1.4v1.4h-1.4zM260.9 515.6h1.7v1.7h-1.7zM543.5 515.9h1.7v1.7h-1.7zM263.0 522.2h0.9v0.9h-0.9zM575.1 520.8h1.4v1.4h-1.4zM270.1 525.6h2.0v2.0h-2.0zM572.6 515.8h1.2v1.2h-1.2zM599.7 523.1h2.0v2.0h-2.0zM598.4 532.6h2.0v2.0h-2.0zM545.2 537.3h1.2v1.2h-1.2zM227.2 515.4h2.0v2.0h-2.0zM283.6 518.3h1.0v1.0h-1.0zM532.0 538.9h2.0v2.0h-2.0zM546.8 546.1h1.2v1.2h-1.2zM604.1 517.3h1.0v1.0h-1.0zM554.4 516.0h1.0v1.0h-1.0zM579.7 520.5h1.7v1.7h-1.7zM308.5 535.8h1.2v1.2h-1.2zM279.6 519.6h1.0v1.0h-1.0zM608.6 516.4h1.0v1.0h-1.0zM246.3 518.8h1.2v1.2h-1.2zM218.7 517.3h1.2v1.2h-1.2zM281.1 531.0h1.2v1.2h-1.2zM530.3 526.9h1.0v1.0h-1.0zM622.0 522.3h1.0v1.0h-1.0zM570.6 520.7h1.0v1.0h-1.0zM564.0 522.9h2.0v2.0h-2.0zM635.7 519.7h1.4v1.4h-1.4zM618.4 515.2h1.0v1.0h-1.0zM626.8 514.9h0.9v0.9h-0.9zM566.3 522.8h1.0v1.0h-1.0zM211.2 515.9h1.4v1.4h-1.4zM286.7 523.5h1.0v1.0h-1.0zM270.7 519.0h1.7v1.7h-1.7zM245.8 524.4h0.9v0.9h-0.9zM279.6 529.6h1.2v1.2h-1.2zM594.3 529.8h0.9v0.9h-0.9zM531.4 519.6h1.0v1.0h-1.0zM262.7 520.0h1.7v1.7h-1.7zM291.5 519.4h1.4v1.4h-1.4zM586.2 525.1h0.9v0.9h-0.9zM217.5 516.3h1.0v1.0h-1.0zM620.6 515.2h2.0v2.0h-2.0zM527.6 537.1h1.0v1.0h-1.0zM264.1 519.8h1.7v1.7h-1.7zM641.4 515.8h1.4v1.4h-1.4zM601.6 527.2h2.0v2.0h-2.0zM241.9 517.2h1.0v1.0h-1.0zM271.8 516.3h1.4v1.4h-1.4zM263.7 514.7h1.0v1.0h-1.0zM557.6 528.9h1.7v1.7h-1.7zM639.4 517.4h1.2v1.2h-1.2zM543.2 521.8h1.4v1.4h-1.4zM211.7 514.7h2.0v2.0h-2.0zM273.9 519.9h1.4v1.4h-1.4zM271.9 519.1h1.0v1.0h-1.0zM305.5 536.4h1.7v1.7h-1.7zM306.6 542.9h1.2v1.2h-1.2zM291.3 532.9h1.0v1.0h-1.0zM583.4 544.3h1.4v1.4h-1.4zM259.0 518.8h1.0v1.0h-1.0zM219.3 517.7h1.7v1.7h-1.7zM591.4 530.6h1.2v1.2h-1.2zM586.0 516.8h1.7v1.7h-1.7zM274.2 530.3h1.0v1.0h-1.0z"/>
</g>
<path d="M197.500 513.200 L633 513.200" stroke="#6e5f38" stroke-width="1.800" fill="none"/>
<path d="M197 514.800 L633 514.800" stroke="#b09a5c" stroke-width="1" fill="none" opacity="0.6"/>
</g>
<g id="roots">
<!-- pale upper lateral roots -->
<path class="ol" d="M393.300 558.400 C390 562 386 566.500 382.800 570.400 C378 575.500 373 580.500 367.900 585.400 C362 591 356 596.500 349.900 601.800 C345 606.500 340 611 334.900 615.300 L331 618 L300.500 639.500 L334 621.500 C336.500 620.500 339 619.500 341 618.300 C347 613.500 353 608.500 358.900 603.300 C365 598.500 371 594 376.900 589.800 C382.500 586 388 582.500 393.300 579.400 Z" style="fill:#e6d8b2;stroke-width:1.3"/>
<path class="ol" d="M441.200 567.400 C445 572 448.500 576.500 451.700 580.900 C456.500 586.500 461.500 592 466.700 597.300 C471.500 602 476.500 606.500 481.700 610.800 L496.600 631.800 L478.700 615.300 C473.500 611.500 468.500 607.500 463.700 603.300 C458.500 598.500 453.500 593.500 448.700 588.400 C445 585.500 441.500 583 438.200 580.900 Z" style="fill:#e6d8b2;stroke-width:1.3"/>
<!-- primary root pale -->
<path class="ol" d="M393.300 530 L393.300 563 C393.500 580 395.500 598 397.800 613 L432.300 613 C434 598 437.500 584 442.700 560 L444.200 530 Z" style="fill:#e3d2aa;stroke:none"/>
<path class="ol" d="M393.300 513 L393.300 563 C393.500 580 395.500 598 397.800 613" style="fill:none;stroke-width:1.2"/>
<path class="ol" d="M444.200 513 L442.700 560 C439 578 434 596 432.300 613" style="fill:none;stroke-width:1.2"/>
<path class="ol" d="M415 537 C413.500 550 412.800 580 412.500 612" style="fill:none;stroke-width:1"/>
<path class="ol" d="M413.500 548 C405 556 397 565 389 572" style="fill:none;stroke-width:1"/>
<path class="ol" d="M412.800 561 C421 565 430 570 437 575" style="fill:none;stroke-width:1"/>
<!-- brown root -->
<path fill="url(#gBrown)" d="M397 617.500 L397.900 637.800 C396 642 393 646 390.200 648.750 C386 654 381 658 376.600 662.400 C369 668 362 674 354.700 680.200 C348 685 341 689 335.500 692.500 L326 700.700 L316.400 710.300 L335.500 700.700 C342 698 348 695 354.700 691 C362 686 370 680 376.600 674.700 C382 670 388 664 393 659.700 C395.500 657.500 397.500 656 399 655.600 C399.800 662 400.200 669 400.600 676 C401.400 684 402.400 691 403.400 698 C404.200 709 404.800 720 405.300 730 C406.800 742 408.800 754 410.800 765 C412.500 780 415 795 417 808 C418.500 794 420 780 421.300 765 C422.500 753 423.500 741 424.400 730 C425.500 723 426.400 716 427.200 709 C427.800 702 428.200 694 428.500 687 C428.800 681 429 675 429 669.300 C430.500 667.500 432 666.500 434 666.500 C438 668.500 441.500 671 445 673.400 C451 679 456 684.500 461.300 689.800 C467 695 472 700 477.700 704.800 L498.250 718.500 L486 706 C480 701 474.500 696 469.500 691 C464.500 686 460 681 455.900 676 C451 671 446.500 666 442.200 661 C439 657 436.500 653 434 648.750 C432.500 645 431.200 641 430.700 637.800 L432.600 617.500 Z"/>
<path fill="url(#gBrTop)" d="M397 617.500 L397.900 637.800 C396 642 393 646 390.200 648.750 C386 654 381 658 376.600 662.400 C369 668 362 674 354.700 680.200 C348 685 341 689 335.500 692.500 L326 700.700 L316.400 710.300 L335.500 700.700 C342 698 348 695 354.700 691 C362 686 370 680 376.600 674.700 C382 670 388 664 393 659.700 C395.500 657.500 397.500 656 399 655.600 C399.800 662 400.200 669 400.600 676 C401.400 684 402.400 691 403.400 698 C404.200 709 404.800 720 405.300 730 C406.800 742 408.800 754 410.800 765 C412.500 780 415 795 417 808 C418.500 794 420 780 421.300 765 C422.500 753 423.500 741 424.400 730 C425.500 723 426.400 716 427.200 709 C427.800 702 428.200 694 428.500 687 C428.800 681 429 675 429 669.300 C430.500 667.500 432 666.500 434 666.500 C438 668.500 441.500 671 445 673.400 C451 679 456 684.500 461.300 689.800 C467 695 472 700 477.700 704.800 L498.250 718.500 L486 706 C480 701 474.500 696 469.500 691 C464.500 686 460 681 455.900 676 C451 671 446.500 666 442.200 661 C439 657 436.500 653 434 648.750 C432.500 645 431.200 641 430.700 637.800 L432.600 617.500 Z"/>
<path class="ol" d="M397 617.500 L397.900 637.800 C396 642 393 646 390.200 648.750 C386 654 381 658 376.600 662.400 C369 668 362 674 354.700 680.200 C348 685 341 689 335.500 692.500 L326 700.700 L316.400 710.300 L335.500 700.700 C342 698 348 695 354.700 691 C362 686 370 680 376.600 674.700 C382 670 388 664 393 659.700 C395.500 657.500 397.500 656 399 655.600 C399.800 662 400.200 669 400.600 676 C401.400 684 402.400 691 403.400 698 C404.200 709 404.800 720 405.300 730 C406.800 742 408.800 754 410.800 765 C412.500 780 415 795 417 808 C418.500 794 420 780 421.300 765 C422.500 753 423.500 741 424.400 730 C425.500 723 426.400 716 427.200 709 C427.800 702 428.200 694 428.500 687 C428.800 681 429 675 429 669.300 C430.500 667.500 432 666.500 434 666.500 C438 668.500 441.500 671 445 673.400 C451 679 456 684.500 461.300 689.800 C467 695 472 700 477.700 704.800 L498.250 718.500 L486 706 C480 701 474.500 696 469.500 691 C464.500 686 460 681 455.900 676 C451 671 446.500 666 442.200 661 C439 657 436.500 653 434 648.750 C432.500 645 431.200 641 430.700 637.800 L432.600 617.500 Z" style="fill:none;stroke-width:1.2"/>
<ellipse class="ol" cx="414.500" cy="616.800" rx="17.500" ry="3.800" style="fill:#eee4c4;stroke-width:1.1"/>
<path d="M410.500 614.500 L418.500 614.500 L414.500 618.500 Z" fill="#1a1710"/>
<!-- root hairs main -->
<g class="hair">
<path d="M407 733 C402 731 398 729 394 730"/><path d="M407.500 738 C402 736 397 735 392 737"/><path d="M408 743 C402 742 397 742 392 744"/><path d="M408.500 748 C403 748 398 749 393 751"/><path d="M409 753 C404 754 399 755 395 758"/><path d="M409.500 758 C405 760 401 762 398 765"/><path d="M410.500 763 C407 765 404 767 402 769"/>
<path d="M425 732 C429 730 433 729 437 730"/><path d="M424.500 737 C429 735 433 735 437 737"/><path d="M424 742 C428 741 432 741 436 743"/><path d="M423.500 747 C427 747 431 748 435 750"/><path d="M423 752 C427 753 430 754 433 757"/><path d="M422.500 757 C425 758 428 760 431 762"/>
</g>
<!-- hairs brown laterals -->
<g class="hair">
<path d="M352 688 C348 684 343 682 338 683"/><path d="M347 691 C343 687 338 685 333 686"/><path d="M342 695 C338 691 333 689 328 690"/><path d="M336 698 C332 695 328 693 324 695"/><path d="M350 697 C351 701 351 705 350 708"/><path d="M344 700 C345 704 345 707 344 710"/><path d="M338 702 C339 706 339 709 337 711"/><path d="M331 704 C332 707 332 710 330 712"/>
<path d="M478 702 C481 699 485 698 489 699"/><path d="M482 706 C485 703 489 702 493 703"/><path d="M486 710 C489 707 493 707 496 708"/><path d="M476 705 C475 709 476 713 477 716"/><path d="M481 709 C480 712 481 715 482 718"/><path d="M486 713 C486 716 487 718 489 720"/>
</g>
<!-- hairs pale laterals -->
<g class="hair">
<path d="M336 612 C333 608 329 606 325 606"/><path d="M331 616 C328 612 324 610 320 610"/><path d="M326 620 C322 616 318 614 314 615"/><path d="M320 624 C316 621 312 620 308 621"/><path d="M314 629 C311 627 308 626 305 627"/><path d="M337 616 C338 620 338 624 337 628"/><path d="M332 620 C333 624 333 628 332 632"/><path d="M326 624 C327 628 327 631 326 635"/><path d="M320 628 C321 631 321 634 320 637"/>
<path d="M480 609 C483 606 487 605 491 606"/><path d="M484 613 C488 610 492 610 496 611"/><path d="M488 617 C492 615 496 615 500 617"/><path d="M491 622 C495 621 498 622 501 624"/><path d="M478 611 C477 615 477 619 478 622"/><path d="M483 615 C482 619 483 622 484 625"/><path d="M488 620 C488 623 489 626 490 629"/>
</g>
</g>
<g id="leavesback">
<!-- cotyledons -->
<path class="ol" d="M393 472 C384 463 374 458 364 457.700 C352 457.500 340 461 334.500 468 C333 475 340 482.500 348 486.500 C356 490.500 364 492 372 491.200 C380 490 388 487.500 393 485.500 Z" style="fill:url(#gCoL);stroke-width:1.7"/>
<path class="ol" d="M442 474 C448 464 454 452 462 444 C470 438 480 436.500 490 437.500 C500 439 506 446 506.500 454 C506 462 498 468 488 471.500 C474 475.500 456 477 442 477.500 Z" style="fill:url(#gCoR);stroke-width:1.7"/>
<!-- leaf 5 (behind flower) -->
<path class="ol" d="M460.400 251 C455 253 450 255.500 446 257.500 C440 261 435 265 431.700 268 L431.700 285 C433 281 435 277.500 437 274.500 C441 270 445 266.500 450 264 C455 260.500 459 258 464 256.500 Z" style="fill:#46d23e;stroke-width:1.5"/>
<path class="ol" d="M464.300 255.600 C470 246 480 232 492 218 C496 212 500 206 506.600 201 C512 197 518 194 524.300 192.200 C531 190.500 539 190.300 546.400 191 C554 192 562 193.500 568.500 195.500 C575 199 580 204 584.300 210 C587.500 212.500 590.500 214.500 592.800 216.800 C595.500 219 597.800 221.500 599.600 224.400 C603 226 606 227.500 608 228.600 C611 232 614 235.500 616.500 238 C619 240 622 240.800 625 240.500 C628 240 631 238.800 633.400 237 C636 234 638.500 231 640.200 227.800 C639 229.500 638 231 636.800 232 C634 233.500 631 234 628.300 233.700 C625 233.300 621.500 232.300 618.200 231.200 C614 230 610 229 606.300 227.800 C604 226.500 601.800 225.500 599.600 224.400 C592 227.500 585 230 578 233 C571 235.500 565 238 558.600 240.800 C552 244 545 247.500 539 251.250 C533 254 526 257 519.500 259 C514 260.500 509 262 504.600 263.400 C499 264.300 493 264.500 487.700 264 C483 263.500 478.500 263 474.700 262 C470.500 260.200 467 258 464.300 255.600 Z" style="fill:#3ad836;stroke-width:1.7"/>
<path fill="#7ae472" d="M506 207 C512 200 520 195.500 530 193.500 C542 192 556 193 566 197 C574 201 580 207 585 213 C574 216 562 220 550 224 C540 226 526 222 516 216 C512 213 509 210 506 207 Z" opacity="0.75"/>
<path class="veind" d="M466 255 C472 251 478 248 484 246.500 C496 242 508 238 520 234 C534 229 548 224 562 219 C574 215 586 212 594 217"/>
<path class="vein" d="M512 208 C518 212 523 219 526 227"/><path class="vein" d="M526 199 C533 204 539 212 543 221"/><path class="vein" d="M544 195 C551 199 557 207 561 215"/><path class="vein" d="M561 198 C567 201 573 206 577 212"/>
<path class="vein" d="M478 249 C481 252 484 255 486 258"/><path class="vein" d="M498 242 C503 247 508 252 512 257"/><path class="vein" d="M518 235 C524 240 529 245 533 250"/><path class="vein" d="M538 228 C544 232 550 237 554 241"/><path class="vein" d="M558 221 C564 224 570 228 575 232"/><path class="vein" d="M574 216 C580 218 586 222 590 226"/>
<!-- leaf 6 (lower right) -->
<path class="ol" d="M459 336 C462 330 466 327 471 324 C478 320 485 318.500 492 318 C501 316.500 510 316 518.800 316.400 C528 317 537 320 545.800 322.400 C556 324 566 323.500 575.700 321 C585 318.500 594 314 602.700 309 C608 305 613 300 617.700 295.500 C621 292 624 288 626.600 283.500 C627.500 291 627.500 298 626.900 304.700 C626 314 624 323 620.700 331.900 C617.500 339 613.500 346 608.300 351.700 C602.500 358.500 596 364 588.500 369 C581.500 373 574 376.500 566.300 378.900 C559 380.500 551.500 380.800 544 380 C537 378.800 530 376.500 524.200 374 C521 372 518.500 370 516 368 C504 361 492 354 479.900 347.900 C472 343 465 339 459 336 Z" style="fill:#30dc2c;stroke-width:1.7"/>
<path fill="#58d656" d="M462 334 C468 327 478 321 492 319 C510 317 530 319 546 323.500 C560 326 574 323 588 317 C600 311 612 302 622 290 C620 300 614 312 606 321 C596 330 584 336 572 339 C556 342 538 342 520 338 C500 334 480 333 462 334 Z" opacity="0.85"/>
<path class="veind" d="M459 336 C472 334 484 334 495 334.400 C510 336 525 340 539.800 341.900 C552 343 564 342 575.700 338.900 C586 335 596 328 605.700 321 C613 313 620 300 625 288"/>
<path class="vein" d="M476 332 C478 328 482 324 486 321"/><path class="vein" d="M492 333 C496 328 500 323 506 319"/><path class="vein" d="M510 336 C514 331 520 325 526 321"/><path class="vein" d="M528 340 C532 335 538 329 546 325"/><path class="vein" d="M548 342 C554 336 560 330 568 325"/><path class="vein" d="M568 340 C576 334 584 327 592 318"/><path class="vein" d="M588 333 C596 327 604 318 610 308"/>
<path class="vein" d="M500 337 C502 344 504 350 508 356"/><path class="vein" d="M520 340 C522 348 526 356 530 364"/><path class="vein" d="M540 343 C542 352 546 360 550 368"/><path class="vein" d="M560 343 C564 350 568 358 572 364"/><path class="vein" d="M578 339 C584 345 588 350 592 354"/><path class="vein" d="M594 331 C600 335 606 338 610 340"/>
</g>
<g id="stem">
<!-- internode pale column & white pedicel box -->
<rect x="381.500" y="215" width="19" height="76" fill="#e4d4a4"/>
<path class="ol" d="M400.500 214 L400.500 291" style="fill:none;stroke-width:1.6"/>
<path class="ol" d="M427.800 233 L446 233 L446 254 L440 261 L427.800 261 Z" style="fill:#eeead6;stroke-width:1.2"/>
<!-- upper narrow stem -->
<path class="ol" d="M407.300 141 L407.300 200 L404.500 213 L402.500 250 L402.300 290 L427.500 290 L427.500 232 L426.500 214 L422.800 200 L422.400 141 Z" style="fill:url(#gUp);stroke-width:1.3"/>
<path fill="url(#gUpH)" d="M407.300 141 L407.300 200 L404.500 213 L402.500 250 L402.300 290 L427.500 290 L427.500 232 L426.500 214 L422.800 200 L422.400 141 Z"/>
<!-- main green stem outer -->
<path class="ol" d="M398 288 C394 298 393.600 320 393.600 340 L393 510 L408 510 L408 290 Z" style="fill:#86dc5c;stroke:none"/>
<path class="ol" d="M393 508 L393 542 L408 542 L408 508 Z" style="fill:url(#gStemL);stroke:none"/>
<path class="ol" d="M417 292 L432 292 L432.600 342 L436.600 370 L436.900 390 L442 480 L444.200 513 L444.200 542 L417 542 Z" style="fill:url(#gStemR);stroke:none"/>
<path class="ol" d="M383 306 C387 312 391 322 393.600 342 L399 342 L399 298 L392 298 Z" style="fill:#8cdc62;stroke:none"/>
<path class="ol" d="M383.500 312 C388 318 392 328 393.600 342" style="fill:none;stroke-width:1.4"/>
<!-- arch top -->
<path class="ol" d="M399 300 L399 294 C399 289 403 286.500 408 286.500 L420 286.500 C425 286.500 428.750 289 428.750 294 L428.750 300 L418.500 300 C418.500 296 416 293.500 412.500 293.500 C409 293.500 407 296 407 300 Z" style="fill:#c8ecb4;stroke-width:1.2"/>
<!-- inner column -->
<path class="ol" d="M407.500 300 C407.500 296 409 293.800 412 293.800 C415 293.800 416.500 296 416.500 300 L418 390 L420 400 L426.500 511 L416 536 L406.700 511 L406.700 400 Z" style="fill:#c3ebaf;stroke:none"/>
<path fill="none" stroke="#3f7f3a" stroke-width="2.2" d="M406.300 300 L406.300 400"/>
<path fill="none" stroke="#4c7f48" stroke-width="2" d="M417.300 300 L418 390"/>
<path fill="none" stroke="#2f6a2a" stroke-width="2.200" stroke-linejoin="round" d="M407 400 L407 511 L415.500 536 L426.500 511 L420 400 L418.200 390"/>
<!-- cutaway box lines -->
<path class="ol" d="M417 317 L441 317" style="fill:none;stroke-width:1.1"/>
<path class="ol" d="M432.300 292 L432.600 342" style="fill:none;stroke-width:1.1"/>
<path d="M433 318 L441 318 L433 325 Z" fill="#e2ebd0"/>
<!-- outer outlines -->
<path class="ol" d="M393.600 340 L393 513 L393.300 545" style="fill:none;stroke-width:1.4"/>
<path class="ol" d="M436.600 370 L436.900 390 L442 480 L444.200 513 L443.500 545" style="fill:none;stroke-width:1.4"/>
<!-- apical bud -->
<path class="ol" d="M403 137 C401 128 404 120 413 111.500 C420 117 424 124 423 134 C420 140 408 142 403 137 Z" style="fill:#dfb47a;stroke:#3a2a10;stroke-width:1.2"/>
<path class="ol" d="M408 128 C408 122 411 117 413.500 115 C416 119 417 124 416 129 Z" style="fill:#f3e3c0;stroke:none"/>
<circle class="ol" cx="425.400" cy="131.500" r="7" style="fill:#e6b866;stroke:#3a2a10;stroke-width:1.2"/>
<circle cx="424" cy="129" r="3" fill="#f4e4c0"/>
<circle class="ol" cx="414" cy="133" r="5" style="fill:#ecd4a4;stroke:#3a2a10;stroke-width:1.1"/>
<path class="ol" d="M404 137 C406 141 410 142.500 414 141" style="fill:none;stroke:#3a2a10;stroke-width:1.1"/>
</g>
<g id="leavesfront">
<!-- leaf 2 small top-left of stem -->
<path class="ol" d="M372.600 128.600 C378 133 384 138.500 387.500 143.400 C393 147 398 150 401 152 C403 155 404 158 403 160.500 C401 162 399 162 397 161 C393 160 390 159 387.500 157.500 C382 154 378 149 376.500 143.400 C375 138 374 133 372.600 128.600 Z" style="fill:#3cbc44;stroke-width:1.7"/>
<path class="vein" d="M376 134 C384 143 394 152 402 159"/>
<path class="ol" d="M403 159 C404.500 175 404.500 195 404 212" style="fill:none;stroke-width:1.5"/>
<!-- leaf 1 upper-left -->
<path class="ol" d="M321.900 141 C332 146 342 150 351.500 153.600 C360 157 367 161 373.400 165.300 C381 170 387 176 390.600 182.500 C392.500 187 392.800 192 392 196.500 C390 198 389 200 387.500 201 C381 203 375 204 368.800 203.600 C360 203 352 201 345 198 C338 194 332 188 328 182.500 C324 176 321 169 320.300 162 C320 155 320.500 148 321.900 141 Z" style="fill:#9cee90;stroke-width:1.8"/>
<path fill="#4fe044" d="M326.500 153.600 C340 164 356 174 370 183 C378 188 386 193 392 196.500 C390 198 389 200 387.500 201 C381 203 375 204 368.800 203.600 C360 203 352 201 345 198 C338 194 332 188 328 182.500 C324 176 321 169 320.300 162 C321 158 323 155 326.500 153.600 Z"/>
<path class="veind" d="M324 146 C326 150 326 152 326.500 153.600 C340 164 356 174 370 183 C378 188 386 193 392 196.500"/>
<path class="vein" d="M338 162 L336 152"/><path class="vein" d="M346 168 L345 155"/><path class="vein" d="M355 174 L355 159"/><path class="vein" d="M363 179 L364 164"/><path class="vein" d="M371 184 L373 170"/><path class="vein" d="M379 189 L382 177"/>
<path class="vein" d="M340 166 C336 170 332 172 328 173"/><path class="vein" d="M350 172 C346 178 340 182 334 184"/><path class="vein" d="M360 178 C356 185 350 190 344 193"/><path class="vein" d="M370 184 C366 191 360 196 354 199"/><path class="vein" d="M380 190 C376 196 372 200 366 202"/>
<path class="ol" d="M390 197 C395 202 399 207 402 212 L404 212 C402 206 398 200 393.500 195.500 Z" style="fill:#d4ecb0;stroke-width:1.1"/>
<!-- leaf 4 small top-right of stem -->
<path class="ol" d="M425 182 C426 178 427.500 176 429.700 174.500" style="fill:none;stroke-width:1.8"/>
<path class="ol" d="M424.600 169 L425.400 206" style="fill:none;stroke-width:1.7"/>
<path class="ol" d="M429.700 174.500 C429.500 168 430.500 163 432.200 159 C435 155 438.500 151.500 442.400 149 C446.500 146.500 451 145.500 456 144.900 C460 144.500 463 143.800 466 143 L472 140.600 L467 145 C466 147 465.200 148 464.400 149 C462.500 154 460.500 158.500 457.600 162.600 C454.500 166.500 451 169.500 447.500 172 C443.500 174 439.500 174.800 435.600 174.500 C433.500 174.500 431.500 174.500 429.700 174.500 Z" style="fill:#3ec446;stroke-width:1.7"/>
<path fill="#7ae074" d="M436 160 C440 154 446 150 454 148 C452 154 446 160 438 166 Z" opacity="0.8"/>
<path class="vein" d="M431 173 C440 166 450 157 464 146"/>
<!-- leaf 3 mid-left + leaflet -->
<path class="ol" d="M175.900 302.200 C183 299.500 190 298 196.250 297.500 C204 296 211 294.500 218 293.750 C223 293 228 292.800 232.200 292.800 C231.500 295 230.500 297 229 299 C226 303 222 307 218 310 C212 313.500 206 315.500 199.400 315.600 C193 315.500 188 314 183.750 311.600 C180 309 177.500 306 175.900 302.200 Z" style="fill:#6ee264;stroke-width:1.7"/>
<path class="vein" d="M180 303 C195 302 212 299 229 294"/><path class="vein" d="M196 302 L199 309"/><path class="vein" d="M204 301 L208 308"/><path class="vein" d="M212 299 L216 305"/><path class="vein" d="M200 301 L198 297"/>
<path class="ol" d="M232.200 292.800 C234 289 237 285 240 281.900 C245 275 251 269 258.750 264.700 C266 260 274 256.500 283.750 253.750 C293 251.500 302 250.500 311.900 250.600 C321 250.700 331 251.500 340 253.750 C348 256 356 260 361.900 264.700 C366 269 368.500 274 369.700 278.750 C370.500 284 371 290 371.250 294.400 C370.500 297 369.500 300 368 302 C363 306 358 309 352.500 311.600 C344 315.500 336 318 327.500 319.400 C318 320.800 308 321.200 299.400 320.900 C290 320 282 318 274.400 314.700 C266 310.500 259 305.500 252.500 300.600 C246 297 239 294 232.200 292.800 Z" style="fill:url(#gL3);stroke-width:1.8"/>
<path fill="#b4f2a4" d="M236 289 C246 272 262 260 284 254.500 C302 250.500 326 250.500 342 255 C356 259 366 268 368.500 280 C362 272 350 268 334 266 C318 264 300 265 286 268 C268 272 250 280 236 289 Z" opacity="0.75"/>
<path class="veind" d="M232.200 292.800 C240 286 249 280 258.750 275.600 C270 270 283 266 296.250 264.700 C309 263.500 322 265 333.750 269.400 C343 273 352 279 358.750 285"/>
<path class="vein" d="M268 271 L264 262"/><path class="vein" d="M282 267 L279 256"/><path class="vein" d="M296 264.500 L294 252"/><path class="vein" d="M310 264.500 L310 251"/><path class="vein" d="M324 266.500 L326 252"/><path class="vein" d="M337 271 L341 256"/><path class="vein" d="M348 277 L354 262"/><path class="vein" d="M356 283 L364 271"/>
<path class="vein" d="M270 272 C262 277 254 284 248 291"/><path class="vein" d="M290 267 C278 273 266 283 258 295"/><path class="vein" d="M310 265.500 C296 272 282 284 272 300"/><path class="vein" d="M328 268 C314 275 300 288 290 305"/><path class="vein" d="M343 274 C330 281 318 294 310 309"/><path class="vein" d="M354 282 C344 289 336 299 330 310"/>
<path class="ol" d="M356 281 C362 287 370 294 378 301 L381 303 L384 313 C380 311 377 308.500 374 305.500 C367 299 360 293 353 288 Z" style="fill:#aee89a;stroke-width:1.3"/>
<!-- leaf 7 lower-left -->
<path class="ol" d="M158 454.400 C166 446 174 438 182.500 430 C192 420 203 410 215 402.300 C226 394 238 387 251 381 C262 377 274 374 286.700 373 C296 372.500 305 373 312.800 374.600 C321 377 328 381 332.300 386 C337 392 339.500 399 340.400 405.600 C339.500 412 335 419 329 425 C322 432 314 438 306.250 443 C296 449 285 454 273.700 457.700 C260 462 246 465 231.400 465.800 C218 466.300 205 466 192.300 464 C180 462 168 458.500 158 454.400 Z" style="fill:url(#gL7);stroke-width:1.8"/>
<path fill="#86ec78" d="M162 451 C172 440 184 428 198 416 C212 404 230 392 251 382.500 C268 376 290 373 308 375 C322 377 332 384 336 394 C338 398 338 400 337 401 C320 398 300 401 280.200 407.200 C262 412 246 419 231.400 425 C208 434 184 443 162 451 Z" opacity="0.6"/>
<path fill="#7aee6c" d="M215 452 C235 446 260 436 285 424 C290 432 280 446 262 454 C246 460 228 460 215 452 Z" opacity="0.55"/>
<path class="veind" d="M165 451 C186 442 208 433 231.400 425 C247 418.500 263 412 280.200 407.200 C293 403.500 306 401 319.300 399 C328 398 337 399 345.300 400.700"/>
<path class="vein" d="M196 438 C192 434 188 430 186 426"/><path class="vein" d="M214 431 C210 425 208 418 208 412"/><path class="vein" d="M234 424 C230 416 228 408 229 400"/><path class="vein" d="M254 416 C250 408 250 398 252 390"/><path class="vein" d="M274 409 C272 400 272 390 276 382"/><path class="vein" d="M294 404 C293 396 294 386 298 378"/><path class="vein" d="M314 400 C314 392 316 386 320 380"/>
<path class="vein" d="M200 437 C196 442 190 447 184 451"/><path class="vein" d="M220 430 C214 438 208 446 200 454"/><path class="vein" d="M242 421 C236 432 228 444 220 456"/><path class="vein" d="M262 414 C256 426 250 440 244 456"/><path class="vein" d="M282 407 C278 420 272 436 268 452"/><path class="vein" d="M302 402 C300 414 296 428 292 444"/><path class="vein" d="M320 399 C320 408 318 420 314 432"/>
<path class="ol" d="M305.600 401.250 C313 399 321 397.500 329 397.300 C334 397.200 339 397.500 344.700 398 C352 399.500 359 402 365 404.400 C372 407.500 378 410.500 383.750 413.750 C387 415.500 390 417.500 393 420 L406 431 L405.600 436 C402 435 399 434 396.250 432.500 C391 429 386 425 380.600 421.600 C375 418.500 370 416 365 413.750 C360 411 355 408.500 349.400 406.700 C343 405.500 336 405 329 405 C321 405.300 313 406.300 305.600 407.500 Z" style="fill:#c4eeb4;stroke-width:1.3"/>
<path d="M310 403 C322 400.500 334 400 344 401 C354 403 364 407 374 412 C382 416 390 421 398 428" fill="none" stroke="#f4fbea" stroke-width="1.800"/>
<path class="ol" d="M330 402.500 C342 402.500 354 405 365 409.500 C373 413 380 416.500 386.900 421" style="fill:none;stroke-width:1"/>
<!-- vegetative branch -->
<path class="ol" d="M352.500 353.500 C357 360 360.500 366 363.400 371.600 C368 378 372.500 384 377.500 390.300 C382 396 387 402 391.600 407.500 L393.500 410 L393.500 419 L391.600 415.300 C390 414 388.500 413 386.900 412.200 C382 406 377.500 400 372.800 393.400 C368 388 363.500 383 358.750 377.800 C354 372 349 366 344.700 360.600 Z" style="fill:#b0e89c;stroke-width:1.6"/>
<path class="ol" d="M350 360 C358 370 366 380 374 390 C380 398 386 405 391 411" style="fill:none;stroke-width:1"/>
<path class="ol" d="M352 376 C356 377 360 379 364 382 L361 386 C358 384 355 382.500 351 381.500 Z" style="fill:#b8eaa6;stroke-width:1.4"/>
<path class="ol" d="M348.600 353.600 C345 348 343.800 340 345 334 C346 331 347.500 329.400 348.600 329.400 C350.500 331 352 335 352.500 340 C352.700 345 351 350 348.600 353.600 Z" style="fill:#98ea94;stroke-width:1.7"/>
<path class="ol" d="M343 355 C336 354 328 350 324 345 C322 342 321 340 320.500 338.750 C326 338.500 332 340 337 343.500 C341 347 343 351 343 355 Z" style="fill:#8ce888;stroke-width:1.7"/>
<path class="ol" d="M344.700 362 C336 364 326 363.500 316.600 359 C324 355.500 334 355 344.700 358 Z" style="fill:#a0ec9c;stroke-width:1.7"/>
<path class="ol" d="M343 368.400 C336 370 328 369 319.700 365.300 C326 363 334 363 343 365.500 Z" style="fill:#c4f0c0;stroke-width:1.5"/>
<path class="ol" d="M352.500 377.800 C346 373 338 371 329 372.300 C321 374 314 380 308.750 391.900 C318 393.500 328 393 336.900 391 C344 388.500 350 384 352.500 377.800 Z" style="fill:#98ec94;stroke-width:1.7"/>
<path class="vein" d="M312 390 C324 386 338 382 351 378"/><path class="vein" d="M322 386.500 L320 381"/><path class="vein" d="M332 383.500 L331 377"/><path class="vein" d="M326 385.500 L329 390"/><path class="vein" d="M338 382 L341 387"/>
<path class="ol" d="M375 380 C370 374 368 366 368.500 358 C370 350 375 344 381 340 L382.200 337 L383 340 C387 345 389 352 389.200 360 C388.500 368 384 375 378 380 Z" style="fill:#88e484;stroke-width:1.7"/>
<path class="veind" d="M378.500 378 L379 352" style="stroke-width:1.1"/><path class="veind" d="M374 357 L384 357" style="stroke-width:1.1"/><path class="veind" d="M379 368 L374 364" style="stroke-width:1.1"/><path class="veind" d="M379 366 L384 362" style="stroke-width:1.1"/>
<!-- axillary bud -->
<path class="ol" d="M381 300 C380 294 383 291 388 291 C393 291.500 396.500 295 397.500 300 C398 306 397 311 395 314.500 C390 313 385 310 383 306 C382 304 381.500 302 381 300 Z" style="fill:#44d840;stroke-width:1.7"/>
<path fill="#8ee888" d="M383 297 C384 293.500 387 292.500 390 293.500 C388 297 386 300 384.500 303 Z"/>
<!-- stipule -->
<path class="ol" d="M377 428.500 C382 427 388 428 392 432 C395 436 396 441 394.500 445.500 C390 446 386 444 383.500 440 C381 436 379 432 377 428.500 Z" style="fill:#3ccc3a;stroke-width:1.7"/>
</g>
<g id="flower">
<!-- back petals -->
<path class="ol" d="M427.200 203.200 C431 200.500 435 199.800 439 200 C444 200.300 448 201 452 202.500 L453 212 C447 210 441 208.500 437 208.300 C433 207 430 205 427.200 203.200 Z" style="fill:#f06a30;stroke:#5a2a10;stroke-width:1.1"/>
<path class="ol" d="M478 203 C484 200.500 490 199.700 496 200.500 C502 201.500 507 204.500 510.500 208.300 C505 209.500 499 210 493 210 C487 210.500 482 212 478 214 Z" style="fill:#f07030;stroke:#5a2a10;stroke-width:1.1"/>
<!-- left big petal -->
<path class="ol" d="M406 224.400 C409 221 413 218.500 417 216.800 C423 213.500 430 210.500 437.300 208.300 C443 207.300 448 208.500 452.500 211.700 L454 220 C449 222 444 224 439 227 C436 231 433 234 428.900 235.400 C423 236.500 417 235.500 412 233.700 C409 231 407 228 406 224.400 Z" style="fill:url(#gP1);stroke:#5a2a10;stroke-width:1.2"/>
<!-- right petal -->
<path class="ol" d="M477 217 C481 212.500 485 209.500 489.800 208.300 C494 207.800 499 209 503.300 211.700 C508 214.500 513 218 516.900 221.900 L522 226 C517 229.500 511 231.500 505 232 C499 232 494 230.500 489.800 228.600 C485 226 481 222 477 217 Z" style="fill:url(#gP4);stroke:#5a2a10;stroke-width:1.2"/>
<!-- stamens -->
<path class="ol" d="M450.500 194 L487 194 L476.500 216.500 L455.500 216.500 Z" style="fill:#f4f4ea;stroke:#2a2a20;stroke-width:1.1"/>
<path fill="none" stroke="#2a2a20" stroke-width="1.3" d="M456 196 L458 216 M461.500 196 L462.500 216 M468 196 L467.500 216 M474 196 L471.500 216 M480 196 L475.500 216"/>
<path fill="none" stroke="#8a8a80" stroke-width="1" d="M464.500 196 L465 216"/>
<!-- pistil -->
<path class="ol" d="M462.500 190 L462.800 178.500 L460 178 C459 175.500 460 173 462 172.300 C464 172 465.500 173 466.700 174.500 C468 173 469.500 172 471.500 172.300 C473.500 173 474.300 175.500 473.500 178 L470.500 178.500 L470 190 Z" style="fill:#f2eebc;stroke:#4a4420;stroke-width:1"/>
<!-- anthers -->
<g fill="#ece68c" stroke="#4a4420" stroke-width="0.9">
<ellipse cx="450" cy="191.800" rx="3" ry="2.500"/><ellipse cx="455.500" cy="190.600" rx="2.800" ry="2.400"/><ellipse cx="461" cy="190" rx="2.800" ry="2.400"/><ellipse cx="467" cy="189.800" rx="2.800" ry="2.400"/><ellipse cx="473" cy="189.800" rx="2.800" ry="2.400"/><ellipse cx="479" cy="190.400" rx="2.800" ry="2.400"/><ellipse cx="485" cy="191.600" rx="3" ry="2.500"/>
</g>
<!-- front petal -->
<path class="ol" d="M438.200 232 C438 226 442 221 449 219.200 C456 217.800 468 217.800 477 219 C484 220.500 487.500 226 487.200 232 C486.500 239 481 245 474 248 C470 249.500 467 250.500 464.400 251.500 C460 250.500 455 249 451 247 C444 244 439 238.500 438.200 232 Z" style="fill:url(#gP3);stroke:#5a2a10;stroke-width:1.2"/>
<path fill="#f6d0b4" d="M456 247 C460 249.500 464 250.500 468 249.800 C470 249 472 248 473 247 C468 248 462 248 456 247 Z" opacity="0.7"/>
</g>
<g id="fruit">
<!-- fruit stalk -->
<path class="ol" d="M431.900 343.400 C436 341 441 339.500 447.500 338.750 C453 338.300 458 338.800 463 340 C468 342.500 472 348 475.600 354 L477 358 L469.400 361.500 C467 356 464 351.500 460 348.500 C457 347.500 453.500 347.500 450.600 348 C446 349.500 442.500 353 439.700 357.500 C437.500 361.500 436.800 366 436.600 372 L422.500 372 C422.500 368 422.500 368 422.500 366.900 C423 361 424.500 357 427 354 C428.500 350 430 346.500 431.900 343.400 Z"  style="fill:#a8e688;stroke-width:1.3"/>
<path d="M427.500 366 C428.500 359 431.500 353 436 349 C441 345 447 343 453 343 C459 343.500 464 346.500 468 352" fill="none" stroke="#f0fae4" stroke-width="2.2"/>
<path class="ol" d="M432.500 368 C433 361 435.500 355.500 439.500 351.500 C443.500 348 448 346.500 453 346.500" style="fill:none;stroke-width:1"/>
<!-- fruit body (red) -->
<path class="ol" d="M476.900 356.900 C470 358.500 462 359.500 456 362.500 C449 367 445.500 376 445.500 386 C445.800 397 451 408 460 415 C470 421.500 484 423.500 500.900 420 C494 400 486 378 476.900 356.900 Z" style="fill:url(#gFr);stroke:#5a1a10;stroke-width:1.2"/>
<!-- cut face -->
<path class="ol" d="M476.900 356.900 C480 353.500 486 352 492 352.600 C502 354 512 360 519 368 C526 376 530 386 529.500 396 C528.500 406 521 414 512 418 C508 419.500 504 420 500.900 420 C494 400 486 378 476.900 356.900 Z" style="fill:#ee9a34;stroke:#5a3010;stroke-width:1.2"/>
<path class="ol" d="M482 360.500 C486 358 491 358 496 360 C504 363 511 369 516 376 C521 383 523.500 391 522.500 398 C521 405 516 410 509 413 C506.500 414 504 414.300 502.500 414 C496 396 489 378 482 360.500 Z" style="fill:#f4be3a;stroke:#6a3c10;stroke-width:1"/>
<path class="ol" d="M514 383 L529 387" style="fill:none;stroke:#6a3c10;stroke-width:1"/>
<g fill="#fbfbf4" stroke="#5a4a30" stroke-width="0.9">
<ellipse cx="493.400" cy="370.300" rx="3.600" ry="2.500" transform="rotate(-30 493.400 370.300)"/>
<ellipse cx="500.900" cy="381" rx="4" ry="2.700" transform="rotate(-15 500.900 381)"/>
<ellipse cx="505.400" cy="393.400" rx="4" ry="2.700" transform="rotate(10 505.400 393.400)"/>
</g>
<!-- calyx -->
<path class="ol" d="M470 352 C474 353 478 355 480 358 C483 360 485 364 486 368 C482 366 479 364 477 362 C476.500 366 475.500 370 474 374 C472 370 471 366 470.500 362 C467 364 464 367 462 370 C462 365 463.500 360 466 357 C467 355 468.500 353 470 352 Z" style="fill:#58cf4c;stroke-width:1.1"/>
</g>
<g id="pointers">
<path class="ptr" d="M366 118 L406 123"/>
<path class="ptr" d="M363 213.800 L404 213.800" style="stroke-width:2.600"/>
<path class="ptk" d="M377 216 C378.500 222 378 232 377 240 C376 245 371 246.500 369.500 248 C372 250 376.500 251 377 255 C377 263 375.500 271 375.800 278 C376.500 282 380 284.500 383.400 286" style="stroke-width:4"/>
<path class="ptk" d="M333 325.500 L381 308.800"/>
<path class="ptk" d="M301 360.300 L318 361.600"/>
<path class="ptk" d="M368 448 L382 442"/>
<path class="ptk" d="M511 161 L473 212"/>
<path class="ptk" d="M582 191 L549 218"/>
<path class="ptk" d="M456 277 L410 315"/>
<path class="ptk" d="M457 305 L408 347"/>
<path class="ptr" d="M515 386 L547 392"/>
<path class="ptk" d="M508 396 L542 429"/>
<path class="ptr" d="M485 455 L537 460"/>
<path class="ptr" d="M436 498 L500 491"/>
<path class="ptr" d="M431 552 L505 556"/>
<path class="ptr" d="M445 668 L501 659"/>
<path class="ptk" d="M545 746.500 C553 751 551 762 551 767 C551 770.500 554.500 772.500 557.500 773.500 C554 775 551 776.500 551 781 C551 788 553.500 797 547 803" style="stroke-width:4"/>
<!-- arrows -->
<path d="M260.200 469.800 L267.200 481 L263.300 481 L263.300 504.600 L257.100 504.600 L257.100 481 L253.200 481 Z" fill="#15120a" stroke="#15120a" stroke-width="0.8" stroke-linejoin="round"/>
<path d="M260.200 559.500 L267.400 548 L263.300 548 L263.300 523.500 L257.100 523.500 L257.100 548 L253 548 Z" fill="#15120a" stroke="#15120a" stroke-width="0.8" stroke-linejoin="round"/>
</g>
<g id="labels">
<text class="ttl" x="159.500" y="160.400" textLength="145.500" lengthAdjust="spacingAndGlyphs">Flowering</text>
<text class="ttl" x="159.500" y="194.600" textLength="75" lengthAdjust="spacingAndGlyphs">plant</text>
<text class="lbl" x="273" y="122" textLength="84" lengthAdjust="spacingAndGlyphs">Apical bud</text>
<text class="lbl" x="313.3" y="221.3" textLength="41.7" lengthAdjust="spacingAndGlyphs">Node</text>
<text class="lbl" x="286.2" y="249" textLength="72" lengthAdjust="spacingAndGlyphs">Internode</text>
<text class="lbl" x="232" y="333" textLength="96" lengthAdjust="spacingAndGlyphs">Axillary bud</text>
<text class="lbl" x="150.300" y="362.800" textLength="143.500" lengthAdjust="spacingAndGlyphs">Vegetative branch</text>
<text class="lbl" x="308" y="452" textLength="53.7" lengthAdjust="spacingAndGlyphs">Stipule</text>
<text class="lbl" x="279.5" y="482" textLength="46.5" lengthAdjust="spacingAndGlyphs">Shoot</text>
<text class="lbl" x="273.700" y="504.600" textLength="61" lengthAdjust="spacingAndGlyphs">system</text>
<text class="lbl" x="289" y="534.8" textLength="35.5" lengthAdjust="spacingAndGlyphs">Root</text>
<text class="lbl" x="276" y="556.500" textLength="62" lengthAdjust="spacingAndGlyphs">system</text>
<text class="lbl" x="521.9" y="156.7" textLength="53" lengthAdjust="spacingAndGlyphs">Flower</text>
<text class="lbl" x="590" y="191.6" textLength="34" lengthAdjust="spacingAndGlyphs">Leaf</text>
<text class="lbl" x="464.3" y="281.3" textLength="140.5" lengthAdjust="spacingAndGlyphs">Ground meristem</text>
<text class="lbl" x="461" y="300.6" textLength="128.6" lengthAdjust="spacingAndGlyphs">Vascular bundle</text>
<text class="lbl" x="555.7" y="397.7" textLength="36.3" lengthAdjust="spacingAndGlyphs">Fruit</text>
<text class="lbl" x="552.500" y="432.6" textLength="51" lengthAdjust="spacingAndGlyphs">Seeds</text>
<text class="lbl" x="548" y="467" textLength="91" lengthAdjust="spacingAndGlyphs">Cotyledons</text>
<text class="lbl" x="509" y="492.5" textLength="82.500" lengthAdjust="spacingAndGlyphs">Hypocotyl</text>
<text class="lbl" x="511" y="563.6" textLength="100.6" lengthAdjust="spacingAndGlyphs">Primary root</text>
<text class="lbl" x="507.7" y="664" textLength="90" lengthAdjust="spacingAndGlyphs">Lateral root</text>
<text class="lbl" x="460.500" y="759" textLength="81.200" lengthAdjust="spacingAndGlyphs">Root hairs</text>
<text class="lbl" x="461.500" y="797" textLength="71.500" lengthAdjust="spacingAndGlyphs">Root cap</text>
<text class="lbl" x="568" y="780.600" textLength="60.500" lengthAdjust="spacingAndGlyphs">Root tip</text>
</g>
</g>
</svg>
</body>
</html>
